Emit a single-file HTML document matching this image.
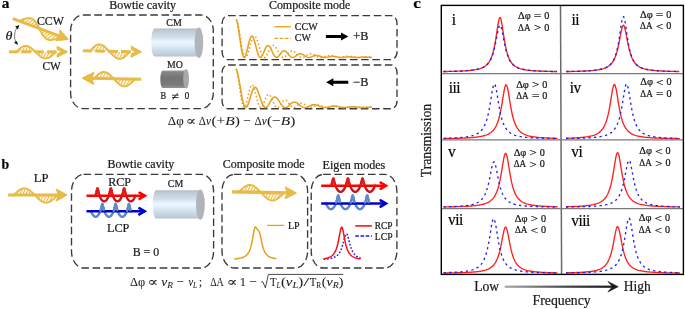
<!DOCTYPE html>
<html lang="en"><head><meta charset="utf-8"><title>Figure</title>
<style>html,body{margin:0;padding:0;background:#fff;}body{width:685px;height:309px;overflow:hidden;}svg{display:block;font-family:"Liberation Serif","DejaVu Serif",serif;fill:#1a1a1a;}text{stroke:#1a1a1a;stroke-width:0.22px;paint-order:stroke fill;}.m text{stroke-width:0.06px;}</style>
</head><body>
<svg width="685" height="309" viewBox="0 0 685 309" role="img" aria-label="Figure: bowtie cavity schematics and transmission spectra">
<defs>
<pattern id="hatch" patternUnits="userSpaceOnUse" width="2.7" height="2.7" patternTransform="rotate(-62)"><rect width="2.7" height="2.7" fill="#fff"/><rect width="2.7" height="1.15" fill="#E7BB45"/></pattern>
<linearGradient id="gCM" x1="0" y1="0" x2="0" y2="1"><stop offset="0" stop-color="#b0bcc8"/><stop offset="0.1" stop-color="#c0cdd9"/><stop offset="0.32" stop-color="#d2e0ec"/><stop offset="0.47" stop-color="#ebf7fe"/><stop offset="0.56" stop-color="#e6f3fc"/><stop offset="0.78" stop-color="#cbdbe8"/><stop offset="0.94" stop-color="#becdda"/><stop offset="1" stop-color="#b2bfcb"/></linearGradient>
<linearGradient id="gMO" x1="0" y1="0" x2="0" y2="1"><stop offset="0" stop-color="#9c9c9c"/><stop offset="0.12" stop-color="#858585"/><stop offset="0.4" stop-color="#747474"/><stop offset="0.8" stop-color="#7a7a7a"/><stop offset="1" stop-color="#959595"/></linearGradient>
<linearGradient id="gArrow" x1="0" y1="0" x2="1" y2="0"><stop offset="0" stop-color="#a8a8a8"/><stop offset="0.65" stop-color="#3a3a3a"/><stop offset="1" stop-color="#1a1a1a"/></linearGradient>
</defs>
<rect width="685" height="309" fill="#fff"/>
<g id="panel-a">
<text transform="translate(1.69 8) scale(1.022 1.0)" font-size="15" font-weight="bold" fill="#000">a</text>
<g transform="translate(12.8 18.6) rotate(20.5)">
<path d="M6.5 0.4 L7.61 -0.7 L8.72 -1.76 L9.84 -2.78 L10.95 -3.71 L12.06 -4.55 L13.18 -5.26 L14.29 -5.84 L15.4 -6.26 L16.51 -6.51 L17.62 -6.6 L18.74 -6.51 L19.85 -6.26 L20.96 -5.84 L22.07 -5.26 L23.19 -4.55 L24.3 -3.71 L25.41 -2.78 L26.53 -1.76 L27.64 -0.7 L28.75 0.4 L29.86 1.5 L30.98 2.56 L32.09 3.58 L33.2 4.51 L34.31 5.35 L35.42 6.06 L36.54 6.64 L37.65 7.06 L38.76 7.31 L39.88 7.4 L40.99 7.31 L42.1 7.06 L43.21 6.64 L44.32 6.06 L45.44 5.35 L46.55 4.51 L47.66 3.58 L48.77 2.56 L49.89 1.5 L51 0.4 Z" fill="url(#hatch)" stroke="none"/>
<path d="M6.5 0.4 L7.61 -0.7 L8.72 -1.76 L9.84 -2.78 L10.95 -3.71 L12.06 -4.55 L13.18 -5.26 L14.29 -5.84 L15.4 -6.26 L16.51 -6.51 L17.62 -6.6 L18.74 -6.51 L19.85 -6.26 L20.96 -5.84 L22.07 -5.26 L23.19 -4.55 L24.3 -3.71 L25.41 -2.78 L26.53 -1.76 L27.64 -0.7 L28.75 0.4 L29.86 1.5 L30.98 2.56 L32.09 3.58 L33.2 4.51 L34.31 5.35 L35.42 6.06 L36.54 6.64 L37.65 7.06 L38.76 7.31 L39.88 7.4 L40.99 7.31 L42.1 7.06 L43.21 6.64 L44.32 6.06 L45.44 5.35 L46.55 4.51 L47.66 3.58 L48.77 2.56 L49.89 1.5 L51 0.4" fill="none" stroke="#E7BB45" stroke-width="1.9" stroke-linecap="round" stroke-linejoin="round"/>
<line x1="0" y1="0" x2="52.3" y2="0" stroke="#E7BB45" stroke-width="3.0"/>
<path d="M58.7 0 L48.3 -5.4 L50.1 -1.2 L50.1 1.2 L48.3 5.4 Z" fill="#E7BB45" stroke="#E7BB45" stroke-width="1.6" stroke-linejoin="round"/>
</g>
<text transform="translate(36.91 24.6) scale(0.987 1.0)" font-size="12" >CCW</text>
<text transform="translate(5.6 39.7) scale(1.124 1.0)" font-size="12.5" font-style="italic">θ</text>
<path d="M16.6 28.0 Q13.0 35.0 15.7 42.2" fill="none" stroke="#444" stroke-width="0.7"/>
<path d="M19.3 24.9 L15.2 26.4 L17.9 29.6 Z" fill="#111"/>
<path d="M17.9 45.0 L14.0 42.7 L17.0 40.9 Z" fill="#111"/>
<g>
<path d="M15.8 52.2 L16.8 51.21 L17.79 50.25 L18.79 49.34 L19.78 48.5 L20.77 47.75 L21.77 47.1 L22.77 46.59 L23.76 46.21 L24.76 45.98 L25.75 45.9 L26.75 45.98 L27.74 46.21 L28.73 46.59 L29.73 47.1 L30.73 47.75 L31.72 48.5 L32.72 49.34 L33.71 50.25 L34.7 51.21 L35.7 52.2 L36.7 53.19 L37.69 54.15 L38.69 55.06 L39.68 55.9 L40.67 56.65 L41.67 57.3 L42.66 57.81 L43.66 58.19 L44.66 58.42 L45.65 58.5 L46.64 58.42 L47.64 58.19 L48.63 57.81 L49.63 57.3 L50.62 56.65 L51.62 55.9 L52.61 55.06 L53.61 54.15 L54.61 53.19 L55.6 52.2 Z" fill="url(#hatch)" stroke="none"/>
<path d="M15.8 52.2 L16.8 51.21 L17.79 50.25 L18.79 49.34 L19.78 48.5 L20.77 47.75 L21.77 47.1 L22.77 46.59 L23.76 46.21 L24.76 45.98 L25.75 45.9 L26.75 45.98 L27.74 46.21 L28.73 46.59 L29.73 47.1 L30.73 47.75 L31.72 48.5 L32.72 49.34 L33.71 50.25 L34.7 51.21 L35.7 52.2 L36.7 53.19 L37.69 54.15 L38.69 55.06 L39.68 55.9 L40.67 56.65 L41.67 57.3 L42.66 57.81 L43.66 58.19 L44.66 58.42 L45.65 58.5 L46.64 58.42 L47.64 58.19 L48.63 57.81 L49.63 57.3 L50.62 56.65 L51.62 55.9 L52.61 55.06 L53.61 54.15 L54.61 53.19 L55.6 52.2" fill="none" stroke="#E7BB45" stroke-width="1.9" stroke-linecap="round" stroke-linejoin="round"/>
<line x1="8.9" y1="51.8" x2="18.3" y2="51.8" stroke="#E7BB45" stroke-width="3.0"/>
<line x1="21.3" y1="51.8" x2="31.1" y2="51.8" stroke="#E7BB45" stroke-width="3.0"/>
<line x1="34.6" y1="51.8" x2="43.8" y2="51.8" stroke="#E7BB45" stroke-width="3.0"/>
<line x1="46.9" y1="51.8" x2="56.6" y2="51.8" stroke="#E7BB45" stroke-width="3.0"/>
<path d="M67.5 51.8 L57 46.3 L57.3 49.57 L61.73 51.8 L57.3 54.03 L57 57.3 Z" fill="#E7BB45" stroke="#E7BB45" stroke-width="1.0" stroke-linejoin="round"/>
</g>
<text transform="translate(42.43 70.2) scale(0.944 1.0)" font-size="12" >CW</text>
<rect x="70.6" y="15" width="142.7" height="93.6" rx="12.5" ry="15.5" fill="none" stroke="#3a3a3a" stroke-width="1.35" stroke-dasharray="7.6 3.6"/>
<text transform="translate(109.33 9) scale(0.997 1.0)" font-size="12" >Bowtie cavity</text>
<g transform="rotate(1.2 112 51.3)">
<path d="M89.4 51.7 L90.41 50.6 L91.41 49.54 L92.42 48.52 L93.42 47.59 L94.43 46.75 L95.43 46.04 L96.44 45.46 L97.44 45.04 L98.45 44.79 L99.45 44.7 L100.45 44.79 L101.46 45.04 L102.47 45.46 L103.47 46.04 L104.47 46.75 L105.48 47.59 L106.48 48.52 L107.49 49.54 L108.5 50.6 L109.5 51.7 L110.5 52.8 L111.51 53.86 L112.52 54.88 L113.52 55.81 L114.53 56.65 L115.53 57.36 L116.53 57.94 L117.54 58.36 L118.55 58.61 L119.55 58.7 L120.55 58.61 L121.56 58.36 L122.56 57.94 L123.57 57.36 L124.57 56.65 L125.58 55.81 L126.58 54.88 L127.59 53.86 L128.59 52.8 L129.6 51.7 Z" fill="url(#hatch)" stroke="none"/>
<path d="M89.4 51.7 L90.41 50.6 L91.41 49.54 L92.42 48.52 L93.42 47.59 L94.43 46.75 L95.43 46.04 L96.44 45.46 L97.44 45.04 L98.45 44.79 L99.45 44.7 L100.45 44.79 L101.46 45.04 L102.47 45.46 L103.47 46.04 L104.47 46.75 L105.48 47.59 L106.48 48.52 L107.49 49.54 L108.5 50.6 L109.5 51.7 L110.5 52.8 L111.51 53.86 L112.52 54.88 L113.52 55.81 L114.53 56.65 L115.53 57.36 L116.53 57.94 L117.54 58.36 L118.55 58.61 L119.55 58.7 L120.55 58.61 L121.56 58.36 L122.56 57.94 L123.57 57.36 L124.57 56.65 L125.58 55.81 L126.58 54.88 L127.59 53.86 L128.59 52.8 L129.6 51.7" fill="none" stroke="#E7BB45" stroke-width="1.9" stroke-linecap="round" stroke-linejoin="round"/>
<line x1="82.8" y1="51.3" x2="91.8" y2="51.3" stroke="#E7BB45" stroke-width="3.0"/>
<line x1="95" y1="51.3" x2="104.5" y2="51.3" stroke="#E7BB45" stroke-width="3.0"/>
<line x1="108" y1="51.3" x2="118" y2="51.3" stroke="#E7BB45" stroke-width="3.0"/>
<line x1="121" y1="51.3" x2="130.8" y2="51.3" stroke="#E7BB45" stroke-width="3.0"/>
<path d="M141.6 51.3 L131.1 45.8 L131.4 49.07 L135.83 51.3 L131.4 53.53 L131.1 56.8 Z" fill="#E7BB45" stroke="#E7BB45" stroke-width="1.0" stroke-linejoin="round"/>
</g>
<g transform="rotate(1.1 111.5 78.7)">
<path d="M93.6 79.1 L94.62 78 L95.65 76.94 L96.67 75.92 L97.7 74.99 L98.72 74.15 L99.75 73.44 L100.77 72.86 L101.8 72.44 L102.82 72.19 L103.85 72.1 L104.88 72.19 L105.9 72.44 L106.92 72.86 L107.95 73.44 L108.97 74.15 L110 74.99 L111.02 75.92 L112.05 76.94 L113.07 78 L114.1 79.1 L115.12 80.2 L116.15 81.26 L117.17 82.28 L118.2 83.21 L119.22 84.05 L120.25 84.76 L121.27 85.34 L122.3 85.76 L123.32 86.01 L124.35 86.1 L125.38 86.01 L126.4 85.76 L127.42 85.34 L128.45 84.76 L129.47 84.05 L130.5 83.21 L131.53 82.28 L132.55 81.26 L133.57 80.2 L134.6 79.1 Z" fill="url(#hatch)" stroke="none"/>
<path d="M93.6 79.1 L94.62 78 L95.65 76.94 L96.67 75.92 L97.7 74.99 L98.72 74.15 L99.75 73.44 L100.77 72.86 L101.8 72.44 L102.82 72.19 L103.85 72.1 L104.88 72.19 L105.9 72.44 L106.92 72.86 L107.95 73.44 L108.97 74.15 L110 74.99 L111.02 75.92 L112.05 76.94 L113.07 78 L114.1 79.1 L115.12 80.2 L116.15 81.26 L117.17 82.28 L118.2 83.21 L119.22 84.05 L120.25 84.76 L121.27 85.34 L122.3 85.76 L123.32 86.01 L124.35 86.1 L125.38 86.01 L126.4 85.76 L127.42 85.34 L128.45 84.76 L129.47 84.05 L130.5 83.21 L131.53 82.28 L132.55 81.26 L133.57 80.2 L134.6 79.1" fill="none" stroke="#E7BB45" stroke-width="1.9" stroke-linecap="round" stroke-linejoin="round"/>
<g transform="translate(223.1 0) scale(-1 1)">
<line x1="81.9" y1="78.7" x2="133.7" y2="78.7" stroke="#E7BB45" stroke-width="3.0"/>
<path d="M140.4 78.7 L129.5 73.1 L131.3 77.5 L131.3 79.9 L129.5 84.3 Z" fill="#E7BB45" stroke="#E7BB45" stroke-width="1.6" stroke-linejoin="round"/>
</g>
</g>
<path d="M154.68 28.4 L198.95 28.4 L198.95 56.6 L154.68 56.6 A3.48 14.1 0 0 1 154.68 28.4 Z" fill="url(#gCM)"/><ellipse cx="198.95" cy="42.8" rx="4.35" ry="15.2" fill="#b1b4ba"/>
<text transform="translate(166.33 26.2) scale(0.995 1.0)" font-size="10" >CM</text>
<path d="M162.62 70.4 L186.1 70.4 L186.1 88.1 L162.62 88.1 A2.32 8.85 0 0 1 162.62 70.4 Z" fill="url(#gMO)"/><ellipse cx="186.1" cy="78.8" rx="2.9" ry="9.8" fill="#a8a8a8"/>
<text transform="translate(166.95 67.7) scale(0.987 1.0)" font-size="10" >MO</text>
<text transform="translate(160.49 99.3) scale(0.851 1.0)" font-size="10" >B</text>
<text transform="translate(171.42 99.6) scale(1.153 1.0)" font-size="11.5" >≠</text>
<text transform="translate(184.76 99.3) scale(0.894 1.0)" font-size="10" >0</text>
<rect x="222.1" y="15.6" width="174.9" height="44" rx="6" ry="7.5" fill="none" stroke="#3a3a3a" stroke-width="1.35" stroke-dasharray="7.6 3.6"/>
<rect x="222.1" y="65" width="174.9" height="43.7" rx="6" ry="7.5" fill="none" stroke="#3a3a3a" stroke-width="1.35" stroke-dasharray="7.6 3.6"/>
<text transform="translate(268.9 8.9) scale(0.998 1.0)" font-size="12" >Composite mode</text>
<path d="M236.2 19.4 L237 21.36 L237.8 24.89 L238.6 29.6 L239.4 35.05 L240.19 40.72 L240.99 46.11 L241.79 50.78 L242.59 54.36 L243.39 56.64 L244.19 57.49 L244.99 56.97 L245.79 55.23 L246.58 52.55 L247.38 49.26 L248.18 45.74 L248.98 42.36 L249.78 39.48 L250.58 37.36 L251.38 36.19 L252.18 36.06 L252.98 36.94 L253.77 38.74 L254.57 41.26 L255.37 44.24 L256.17 47.42 L256.97 50.49 L257.77 53.21 L258.57 55.37 L259.37 56.81 L260.16 57.46 L260.96 57.33 L261.76 56.49 L262.56 55.09 L263.36 53.3 L264.16 51.34 L264.96 49.42 L265.76 47.73 L266.56 46.44 L267.35 45.66 L268.15 45.46 L268.95 45.83 L269.75 46.74 L270.55 48.07 L271.35 49.7 L272.15 51.47 L272.95 53.21 L273.74 54.79 L274.54 56.07 L275.34 56.97 L276.14 57.44 L276.94 57.46 L277.74 57.07 L278.54 56.34 L279.34 55.38 L280.14 54.29 L280.93 53.2 L281.73 52.22 L282.53 51.44 L283.33 50.94 L284.13 50.75 L284.93 50.89 L285.73 51.34 L286.53 52.04 L287.32 52.92 L288.12 53.9 L288.92 54.89 L289.72 55.8 L290.52 56.56 L291.32 57.12 L292.12 57.43 L292.92 57.49 L293.72 57.32 L294.51 56.95 L295.31 56.44 L296.11 55.84 L296.91 55.22 L297.71 54.65 L298.51 54.19 L299.31 53.87 L300.11 53.73 L300.9 53.77 L301.7 53.98 L302.5 54.35 L303.3 54.82 L304.1 55.36 L304.9 55.92 L305.7 56.44 L306.5 56.89 L307.3 57.23 L308.09 57.43 L308.89 57.5 L309.69 57.43 L310.49 57.25 L311.29 56.97 L312.09 56.64 L312.89 56.3 L313.69 55.97 L314.48 55.7 L315.28 55.5 L316.08 55.4 L316.88 55.4 L317.68 55.5 L318.48 55.68 L319.28 55.94 L320.08 56.24 L320.88 56.55 L321.67 56.85 L322.47 57.11 L323.27 57.31 L324.07 57.44 L324.87 57.5 L325.67 57.48 L326.47 57.39 L327.27 57.24 L328.06 57.06 L328.86 56.87 L329.66 56.68 L330.46 56.52 L331.26 56.4 L332.06 56.33 L332.86 56.32 L333.66 56.36 L334.46 56.46 L335.25 56.59 L336.05 56.76 L336.85 56.93 L337.65 57.1 L338.45 57.25 L339.25 57.37 L340.05 57.46 L340.85 57.5 L341.64 57.49 L342.44 57.45 L343.24 57.37 L344.04 57.28 L344.84 57.17 L345.64 57.06 L346.44 56.97 L347.24 56.9 L348.04 56.85 L348.83 56.84 L349.63 56.85 L350.43 56.9 L351.23 56.97 L352.03 57.06 L352.83 57.16 L353.63 57.26 L354.43 57.34 L355.22 57.42 L356.02 57.47 L356.82 57.5 L357.62 57.5 L358.42 57.48 L359.22 57.44 L360.02 57.39 L360.82 57.33 L361.62 57.27 L362.41 57.21 L363.21 57.17 L364.01 57.14 L364.81 57.13 L365.61 57.13 L366.41 57.16 L367.21 57.2 L368.01 57.24 L368.8 57.3 L369.6 57.35 L370.4 57.4 L371.2 57.45 L372 57.48" fill="none" stroke="#E8A11C" stroke-width="1.55" stroke-linejoin="round"/>
<path d="M236.2 19.4 L237 20.99 L237.8 23.76 L238.6 27.49 L239.4 31.92 L240.19 36.72 L240.99 41.58 L241.79 46.18 L242.59 50.23 L243.39 53.52 L244.19 55.87 L244.99 57.2 L245.79 57.47 L246.58 56.76 L247.38 55.17 L248.18 52.89 L248.98 50.14 L249.78 47.14 L250.58 44.14 L251.38 41.37 L252.18 39.03 L252.98 37.29 L253.77 36.26 L254.57 35.99 L255.37 36.49 L256.17 37.7 L256.97 39.52 L257.77 41.81 L258.57 44.41 L259.37 47.14 L260.16 49.81 L260.96 52.26 L261.76 54.35 L262.56 55.95 L263.36 57.01 L264.16 57.47 L264.96 57.36 L265.76 56.73 L266.56 55.64 L267.35 54.23 L268.15 52.6 L268.95 50.91 L269.75 49.27 L270.55 47.82 L271.35 46.66 L272.15 45.86 L272.95 45.48 L273.74 45.53 L274.54 46 L275.34 46.85 L276.14 48 L276.94 49.38 L277.74 50.88 L278.54 52.4 L279.34 53.85 L280.14 55.14 L280.93 56.19 L281.73 56.95 L282.53 57.39 L283.33 57.5 L284.13 57.29 L284.93 56.81 L285.73 56.11 L286.53 55.25 L287.32 54.32 L288.12 53.37 L288.92 52.5 L289.72 51.75 L290.52 51.19 L291.32 50.85 L292.12 50.75 L292.92 50.89 L293.72 51.26 L294.51 51.82 L295.31 52.53 L296.11 53.34 L296.91 54.19 L297.71 55.03 L298.51 55.81 L299.31 56.47 L300.11 56.99 L300.9 57.33 L301.7 57.49 L302.5 57.47 L303.3 57.28 L304.1 56.95 L304.9 56.51 L305.7 56 L306.5 55.47 L307.3 54.95 L308.09 54.49 L308.89 54.12 L309.69 53.86 L310.49 53.73 L311.29 53.74 L312.09 53.88 L312.89 54.14 L313.69 54.49 L314.48 54.92 L315.28 55.39 L316.08 55.87 L316.88 56.33 L317.68 56.73 L318.48 57.07 L319.28 57.31 L320.08 57.46 L320.88 57.5 L321.67 57.44 L322.47 57.3 L323.27 57.08 L324.07 56.82 L324.87 56.52 L325.67 56.23 L326.47 55.95 L327.27 55.71 L328.06 55.53 L328.86 55.42 L329.66 55.38 L330.46 55.42 L331.26 55.53 L332.06 55.7 L332.86 55.92 L333.66 56.18 L334.46 56.44 L335.25 56.71 L336.05 56.95 L336.85 57.16 L337.65 57.33 L338.45 57.44 L339.25 57.49 L340.05 57.49 L340.85 57.44 L341.64 57.33 L342.44 57.2 L343.24 57.04 L344.04 56.87 L344.84 56.71 L345.64 56.57 L346.44 56.45 L347.24 56.36 L348.04 56.32 L348.83 56.32 L349.63 56.36 L350.43 56.44 L351.23 56.55 L352.03 56.68 L352.83 56.83 L353.63 56.98 L354.43 57.12 L355.22 57.25 L356.02 57.36 L356.82 57.44 L357.62 57.48 L358.42 57.5 L359.22 57.48 L360.02 57.44 L360.82 57.37 L361.62 57.29 L362.41 57.2 L363.21 57.11 L364.01 57.02 L364.81 56.94 L365.61 56.89 L366.41 56.85 L367.21 56.84 L368.01 56.85 L368.8 56.88 L369.6 56.93 L370.4 57 L371.2 57.08 L372 57.16" fill="none" stroke="#E8A11C" stroke-width="1.55" stroke-dasharray="1.6 2.2" stroke-linejoin="round"/>
<line x1="274.5" y1="26.7" x2="290.8" y2="26.7" stroke="#E8A11C" stroke-width="1.3"/>
<line x1="274.5" y1="38.3" x2="290.8" y2="38.3" stroke="#E8A11C" stroke-width="1.3" stroke-dasharray="3.6 1.6"/>
<text x="294.8" y="29.9" font-size="10" text-anchor="start" >CCW</text>
<text x="294.8" y="41.1" font-size="10" text-anchor="start" >CW</text>
<path d="M325.9 34.9 L341 34.9 L341 32.4 L348.3 36.4 L341 40.4 L341 37.9 L325.9 37.9 Z" fill="#000"/>
<text transform="translate(353.26 39.7) scale(1.020 1.0)" font-size="12" >+B</text>
<path d="M348.3 80.8 L333.3 80.8 L333.3 78.3 L326.1 82.3 L333.3 86.3 L333.3 83.8 L348.3 83.8 Z" fill="#000"/>
<text transform="translate(353.26 86) scale(1.020 1.0)" font-size="12" >−B</text>
<path d="M236 68.9 L236.8 70.52 L237.6 73.24 L238.4 76.85 L239.2 81.1 L240 85.73 L240.8 90.44 L241.6 94.96 L242.4 99.05 L243.2 102.47 L244 105.09 L244.8 106.8 L245.6 107.56 L246.4 107.39 L247.2 106.38 L248 104.66 L248.8 102.4 L249.6 99.79 L250.4 97.03 L251.2 94.34 L252 91.89 L252.8 89.85 L253.6 88.35 L254.4 87.48 L255.2 87.27 L256 87.72 L256.8 88.79 L257.6 90.39 L258.4 92.41 L259.2 94.71 L260 97.15 L260.8 99.58 L261.6 101.86 L262.4 103.87 L263.2 105.5 L264 106.69 L264.8 107.39 L265.6 107.6 L266.4 107.34 L267.2 106.67 L268 105.66 L268.8 104.4 L269.6 103 L270.4 101.57 L271.2 100.21 L272 99 L272.8 98.04 L273.6 97.38 L274.4 97.06 L275.2 97.08 L276 97.44 L276.8 98.1 L277.6 99.02 L278.4 100.14 L279.2 101.37 L280 102.64 L280.8 103.89 L281.6 105.03 L282.4 106 L283.2 106.77 L284 107.29 L284.8 107.56 L285.6 107.58 L286.4 107.36 L287.2 106.94 L288 106.36 L288.8 105.67 L289.6 104.93 L290.4 104.19 L291.2 103.51 L292 102.93 L292.8 102.48 L293.6 102.2 L294.4 102.1 L295.2 102.18 L296 102.43 L296.8 102.83 L297.6 103.35 L298.4 103.95 L299.2 104.61 L300 105.27 L300.8 105.9 L301.6 106.46 L302.4 106.93 L303.2 107.28 L304 107.51 L304.8 107.6 L305.6 107.56 L306.4 107.4 L307.2 107.15 L308 106.83 L308.8 106.45 L309.6 106.07 L310.4 105.69 L311.2 105.35 L312 105.07 L312.8 104.87 L313.6 104.76 L314.4 104.74 L315.2 104.82 L316 104.98 L316.8 105.21 L317.6 105.5 L318.4 105.83 L319.2 106.17 L320 106.51 L320.8 106.83 L321.6 107.11 L322.4 107.33 L323.2 107.49 L324 107.58 L324.8 107.6 L325.6 107.55 L326.4 107.45 L327.2 107.31 L328 107.13 L328.8 106.93 L329.6 106.73 L330.4 106.54 L331.2 106.37 L332 106.24 L332.8 106.15 L333.6 106.12 L334.4 106.12 L335.2 106.18 L336 106.28 L336.8 106.41 L337.6 106.57 L338.4 106.75 L339.2 106.93 L340 107.1 L340.8 107.26 L341.6 107.39 L342.4 107.49 L343.2 107.56 L344 107.6 L344.8 107.59 L345.6 107.56 L346.4 107.5 L347.2 107.41 L348 107.32 L348.8 107.21 L349.6 107.11 L350.4 107.01 L351.2 106.93 L352 106.87 L352.8 106.84 L353.6 106.83 L354.4 106.84 L355.2 106.88 L356 106.94 L356.8 107.01 L357.6 107.1 L358.4 107.19 L359.2 107.28 L360 107.37 L360.8 107.45 L361.6 107.51 L362.4 107.56 L363.2 107.59 L364 107.6 L364.8 107.59 L365.6 107.57 L366.4 107.53 L367.2 107.48 L368 107.43 L368.8 107.38 L369.6 107.33 L370.4 107.28 L371.2 107.24 L372 107.21" fill="none" stroke="#E8A11C" stroke-width="1.55" stroke-linejoin="round"/>
<path d="M236 68.9 L236.8 70.78 L237.6 74.19 L238.4 78.81 L239.2 84.18 L240 89.84 L240.8 95.28 L241.6 100.08 L242.4 103.87 L243.2 106.4 L244 107.53 L244.8 107.28 L245.6 105.78 L246.4 103.25 L247.2 100.02 L248 96.43 L248.8 92.88 L249.6 89.69 L250.4 87.19 L251.2 85.58 L252 84.99 L252.8 85.45 L253.6 86.89 L254.4 89.16 L255.2 92.03 L256 95.24 L256.8 98.51 L257.6 101.56 L258.4 104.14 L259.2 106.08 L260 107.25 L260.8 107.6 L261.6 107.17 L262.4 106.05 L263.2 104.41 L264 102.43 L264.8 100.34 L265.6 98.33 L266.4 96.62 L267.2 95.34 L268 94.63 L268.8 94.51 L269.6 95 L270.4 96.03 L271.2 97.5 L272 99.26 L272.8 101.15 L273.6 103.01 L274.4 104.7 L275.2 106.06 L276 107.03 L276.8 107.53 L277.6 107.56 L278.4 107.15 L279.2 106.38 L280 105.34 L280.8 104.15 L281.6 102.94 L282.4 101.83 L283.2 100.92 L284 100.3 L284.8 100.01 L285.6 100.08 L286.4 100.48 L287.2 101.18 L288 102.11 L288.8 103.17 L289.6 104.27 L290.4 105.32 L291.2 106.24 L292 106.95 L292.8 107.41 L293.6 107.6 L294.4 107.51 L295.2 107.19 L296 106.68 L296.8 106.03 L297.6 105.33 L298.4 104.64 L299.2 104.04 L300 103.57 L300.8 103.28 L301.6 103.19 L302.4 103.3 L303.2 103.61 L304 104.07 L304.8 104.64 L305.6 105.27 L306.4 105.9 L307.2 106.49 L308 106.98 L308.8 107.34 L309.6 107.55 L310.4 107.6 L311.2 107.5 L312 107.26 L312.8 106.93 L313.6 106.54 L314.4 106.13 L315.2 105.75 L316 105.42 L316.8 105.19 L317.6 105.06 L318.4 105.05 L319.2 105.16 L320 105.37 L320.8 105.67 L321.6 106.02 L322.4 106.39 L323.2 106.75 L324 107.07 L324.8 107.33 L325.6 107.51 L326.4 107.59 L327.2 107.59 L328 107.5 L328.8 107.34 L329.6 107.13 L330.4 106.9 L331.2 106.66 L332 106.45 L332.8 106.28 L333.6 106.16 L334.4 106.12 L335.2 106.14 L336 106.23 L336.8 106.37 L337.6 106.55 L338.4 106.76 L339.2 106.98 L340 107.18 L340.8 107.35 L341.6 107.49 L342.4 107.57 L343.2 107.6 L344 107.58 L344.8 107.51 L345.6 107.41 L346.4 107.28 L347.2 107.14 L348 107.01 L348.8 106.89 L349.6 106.8 L350.4 106.75 L351.2 106.74 L352 106.77 L352.8 106.83 L353.6 106.92 L354.4 107.04 L355.2 107.16 L356 107.28 L356.8 107.4 L357.6 107.49 L358.4 107.56 L359.2 107.59 L360 107.6 L360.8 107.58 L361.6 107.53 L362.4 107.46 L363.2 107.38 L364 107.3 L364.8 107.23 L365.6 107.17 L366.4 107.12 L367.2 107.1 L368 107.1 L368.8 107.13 L369.6 107.17 L370.4 107.23 L371.2 107.3 L372 107.37" fill="none" stroke="#E8A11C" stroke-width="1.55" stroke-dasharray="1.6 2.2" stroke-linejoin="round"/>
<g class="m">
<text transform="translate(167.87 125.2) scale(1.057 1.0)" font-size="12.3" >Δφ</text>
<text transform="translate(185.86 125.2) scale(1.262 1.0)" font-size="12.3" >∝</text>
<text transform="translate(198.85 125.2) scale(0.909 1.0)" font-size="12.3" >Δ<tspan font-style="italic">ν</tspan></text>
<text transform="translate(211.47 125.2) scale(1.258 1.0)" font-size="12.3" >(+<tspan font-style="italic">B</tspan>)</text>
<text transform="translate(243.43 125.2) scale(1.078 1.0)" font-size="12.3" >−</text>
<text transform="translate(254.45 125.2) scale(0.909 1.0)" font-size="12.3" >Δ<tspan font-style="italic">ν</tspan></text>
<text transform="translate(267.08 125.2) scale(1.249 1.0)" font-size="12.3" >(−<tspan font-style="italic">B</tspan>)</text>
</g>
</g>
<g id="panel-b">
<text transform="translate(1.57 168.8) scale(0.920 1.0)" font-size="15" font-weight="bold" fill="#000">b</text>
<text transform="translate(33.81 181.7) scale(1.051 1.0)" font-size="12" >LP</text>
<g>
<path d="M13.4 195.5 L14.49 194.37 L15.58 193.28 L16.67 192.23 L17.76 191.27 L18.85 190.41 L19.94 189.68 L21.03 189.08 L22.12 188.65 L23.21 188.39 L24.3 188.3 L25.39 188.39 L26.48 188.65 L27.57 189.08 L28.66 189.68 L29.75 190.41 L30.84 191.27 L31.93 192.23 L33.02 193.28 L34.11 194.37 L35.2 195.5 L36.29 196.63 L37.38 197.72 L38.47 198.77 L39.56 199.73 L40.65 200.59 L41.74 201.32 L42.83 201.92 L43.92 202.35 L45.01 202.61 L46.1 202.7 L47.19 202.61 L48.28 202.35 L49.37 201.92 L50.46 201.32 L51.55 200.59 L52.64 199.73 L53.73 198.77 L54.82 197.72 L55.91 196.63 L57 195.5 Z" fill="url(#hatch)" stroke="none"/>
<path d="M13.4 195.5 L14.49 194.37 L15.58 193.28 L16.67 192.23 L17.76 191.27 L18.85 190.41 L19.94 189.68 L21.03 189.08 L22.12 188.65 L23.21 188.39 L24.3 188.3 L25.39 188.39 L26.48 188.65 L27.57 189.08 L28.66 189.68 L29.75 190.41 L30.84 191.27 L31.93 192.23 L33.02 193.28 L34.11 194.37 L35.2 195.5 L36.29 196.63 L37.38 197.72 L38.47 198.77 L39.56 199.73 L40.65 200.59 L41.74 201.32 L42.83 201.92 L43.92 202.35 L45.01 202.61 L46.1 202.7 L47.19 202.61 L48.28 202.35 L49.37 201.92 L50.46 201.32 L51.55 200.59 L52.64 199.73 L53.73 198.77 L54.82 197.72 L55.91 196.63 L57 195.5" fill="none" stroke="#E7BB45" stroke-width="1.9" stroke-linecap="round" stroke-linejoin="round"/>
<line x1="8.1" y1="195" x2="60.3" y2="195" stroke="#E7BB45" stroke-width="3.1"/>
<path d="M66.4 195 L56.5 189.5 L58.3 193.8 L58.3 196.2 L56.5 200.5 Z" fill="#E7BB45" stroke="#E7BB45" stroke-width="1.6" stroke-linejoin="round"/>
</g>
<rect x="71.5" y="174.4" width="142.1" height="93.6" rx="12" ry="17" fill="none" stroke="#3a3a3a" stroke-width="1.35" stroke-dasharray="7.6 3.6"/>
<text transform="translate(107.53 168) scale(0.997 1.0)" font-size="12" >Bowtie cavity</text>
<text transform="translate(108.32 186) scale(1.002 1.0)" font-size="12" >RCP</text>
<g>
<path d="M95.4 195.8 L95.85 194.44 L96.24 193.1 L96.56 191.84 L96.83 190.72 L97.04 189.78 L97.21 189.06 L97.35 188.59 L97.48 188.4 L97.6 188.5 L97.74 188.88 L97.9 189.51 L98.1 190.39 L98.35 191.46 L98.65 192.68 L99.02 194 L99.45 195.36 L99.95 196.7 L100.51 197.96 L101.13 199.08 L101.81 200.02 L102.52 200.74 L103.27 201.21 L104.03 201.4 L104.79 201.3 L105.54 200.92 L106.26 200.29 L106.95 199.41 L107.59 198.34 L108.18 197.12 L108.7 195.8 L109.15 194.44 L109.54 193.1 L109.86 191.84 L110.13 190.72 L110.34 189.78 L110.51 189.06 L110.65 188.59 L110.78 188.4 L110.9 188.5 L111.04 188.88 L111.2 189.51 L111.4 190.39 L111.65 191.46 L111.95 192.68 L112.32 194 L112.75 195.36 L113.25 196.7 L113.81 197.96 L114.43 199.08 L115.11 200.02 L115.82 200.74 L116.57 201.21 L117.33 201.4 L118.09 201.3 L118.84 200.92 L119.56 200.29 L120.25 199.41 L120.89 198.34 L121.48 197.12 L122 195.8 L122.45 194.44 L122.84 193.1 L123.16 191.84 L123.43 190.72 L123.64 189.78 L123.81 189.06 L123.95 188.59 L124.08 188.4 L124.2 188.5 L124.34 188.88 L124.5 189.51 L124.7 190.39 L124.95 191.46 L125.25 192.68 L125.62 194 L126.05 195.36 L126.55 196.7 L127.11 197.96 L127.73 199.08 L128.41 200.02 L129.12 200.74 L129.87 201.21 L130.63 201.4 L131.39 201.3 L132.14 200.92 L132.86 200.29 L133.55 199.41 L134.19 198.34 L134.78 197.12 L135.3 195.8" fill="none" stroke="#c4161c" stroke-width="2.4" stroke-linecap="round" stroke-linejoin="round"/>
<line x1="86.5" y1="195.8" x2="143.2" y2="195.8" stroke="#ff0000" stroke-width="2.5"/>
<path d="M95.85 194.44 L96.24 193.1 L96.56 191.84 L96.83 190.72 L97.04 189.78 L97.21 189.06 L97.35 188.59 L97.48 188.4 L97.6 188.5 L97.74 188.88 L97.9 189.51 L98.1 190.39 L98.35 191.46 L98.65 192.68 L99.02 194 L99.45 195.36" fill="none" stroke="#e01a1a" stroke-width="2.4" stroke-linecap="round" stroke-linejoin="round"/>
<path d="M109.15 194.44 L109.54 193.1 L109.86 191.84 L110.13 190.72 L110.34 189.78 L110.51 189.06 L110.65 188.59 L110.78 188.4 L110.9 188.5 L111.04 188.88 L111.2 189.51 L111.4 190.39 L111.65 191.46 L111.95 192.68 L112.32 194 L112.75 195.36" fill="none" stroke="#e01a1a" stroke-width="2.4" stroke-linecap="round" stroke-linejoin="round"/>
<path d="M122.45 194.44 L122.84 193.1 L123.16 191.84 L123.43 190.72 L123.64 189.78 L123.81 189.06 L123.95 188.59 L124.08 188.4 L124.2 188.5 L124.34 188.88 L124.5 189.51 L124.7 190.39 L124.95 191.46 L125.25 192.68 L125.62 194 L126.05 195.36" fill="none" stroke="#e01a1a" stroke-width="2.4" stroke-linecap="round" stroke-linejoin="round"/>
<path d="M139.5 192.7 L144.9 195.8 L139.5 198.9" fill="none" stroke="#ff0000" stroke-width="2.5" stroke-linecap="round" stroke-linejoin="miter"/>
</g>
<g>
<path d="M91.11 211.3 L91.63 212.6 L92.21 213.8 L92.85 214.85 L93.54 215.71 L94.27 216.34 L95.02 216.7 L95.78 216.8 L96.54 216.61 L97.29 216.15 L98 215.44 L98.67 214.51 L99.3 213.4 L99.86 212.16 L100.36 210.84 L100.79 209.5 L101.15 208.2 L101.46 207 L101.7 205.95 L101.9 205.09 L102.06 204.46 L102.2 204.1 L102.32 204 L102.45 204.19 L102.59 204.65 L102.76 205.36 L102.98 206.29 L103.24 207.4 L103.57 208.64 L103.95 209.96 L104.41 211.3 L104.93 212.6 L105.51 213.8 L106.15 214.85 L106.84 215.71 L107.57 216.34 L108.32 216.7 L109.08 216.8 L109.84 216.61 L110.59 216.15 L111.3 215.44 L111.97 214.51 L112.6 213.4 L113.16 212.16 L113.66 210.84 L114.09 209.5 L114.45 208.2 L114.76 207 L115 205.95 L115.2 205.09 L115.36 204.46 L115.5 204.1 L115.62 204 L115.75 204.19 L115.89 204.65 L116.06 205.36 L116.28 206.29 L116.54 207.4 L116.87 208.64 L117.25 209.96 L117.71 211.3 L118.23 212.6 L118.81 213.8 L119.45 214.85 L120.14 215.71 L120.87 216.34 L121.62 216.7 L122.38 216.8 L123.14 216.61 L123.89 216.15 L124.6 215.44 L125.27 214.51 L125.9 213.4 L126.46 212.16 L126.96 210.84 L127.39 209.5 L127.75 208.2 L128.06 207 L128.3 205.95 L128.5 205.09 L128.66 204.46 L128.8 204.1 L128.92 204 L129.05 204.19 L129.19 204.65 L129.36 205.36 L129.58 206.29 L129.84 207.4 L130.17 208.64 L130.55 209.96 L131.01 211.3" fill="none" stroke="#5a86c6" stroke-width="2.4" stroke-linecap="round" stroke-linejoin="round"/>
<line x1="86.5" y1="211.3" x2="143" y2="211.3" stroke="#0000c8" stroke-width="2.5"/>
<path d="M100.36 210.84 L100.79 209.5 L101.15 208.2 L101.46 207 L101.7 205.95 L101.9 205.09 L102.06 204.46 L102.2 204.1 L102.32 204 L102.45 204.19 L102.59 204.65 L102.76 205.36 L102.98 206.29 L103.24 207.4 L103.57 208.64 L103.95 209.96" fill="none" stroke="#5f8ac8" stroke-width="2.4" stroke-linecap="round" stroke-linejoin="round"/>
<path d="M113.66 210.84 L114.09 209.5 L114.45 208.2 L114.76 207 L115 205.95 L115.2 205.09 L115.36 204.46 L115.5 204.1 L115.62 204 L115.75 204.19 L115.89 204.65 L116.06 205.36 L116.28 206.29 L116.54 207.4 L116.87 208.64 L117.25 209.96" fill="none" stroke="#5f8ac8" stroke-width="2.4" stroke-linecap="round" stroke-linejoin="round"/>
<path d="M126.96 210.84 L127.39 209.5 L127.75 208.2 L128.06 207 L128.3 205.95 L128.5 205.09 L128.66 204.46 L128.8 204.1 L128.92 204 L129.05 204.19 L129.19 204.65 L129.36 205.36 L129.58 206.29 L129.84 207.4 L130.17 208.64 L130.55 209.96" fill="none" stroke="#5f8ac8" stroke-width="2.4" stroke-linecap="round" stroke-linejoin="round"/>
<path d="M139.3 208.2 L144.7 211.3 L139.3 214.4" fill="none" stroke="#0000c8" stroke-width="2.5" stroke-linecap="round" stroke-linejoin="miter"/>
</g>
<text transform="translate(107.02 231.5) scale(1.013 1.0)" font-size="12" >LCP</text>
<path d="M156.22 190.2 L200.4 190.2 L200.4 218.6 L156.22 218.6 A3.52 14.2 0 0 1 156.22 190.2 Z" fill="url(#gCM)"/><ellipse cx="200.4" cy="204.6" rx="4.4" ry="15.2" fill="#b1b4ba"/>
<text transform="translate(167.83 186.5) scale(0.988 1.0)" font-size="10" >CM</text>
<text transform="translate(132.63 255.7) scale(0.992 1.0)" font-size="12" >B = 0</text>
<rect x="222" y="174.4" width="85.6" height="93.6" rx="12" ry="17" fill="none" stroke="#3a3a3a" stroke-width="1.35" stroke-dasharray="7.6 3.6"/>
<text transform="translate(222.8 168) scale(1.001 1.0)" font-size="12" >Composite mode</text>
<g transform="rotate(1 264 192.4)">
<path d="M238.5 192.8 L239.63 191.61 L240.76 190.45 L241.89 189.35 L243.02 188.33 L244.15 187.43 L245.28 186.65 L246.41 186.03 L247.54 185.57 L248.67 185.29 L249.8 185.2 L250.93 185.29 L252.06 185.57 L253.19 186.03 L254.32 186.65 L255.45 187.43 L256.58 188.33 L257.71 189.35 L258.84 190.45 L259.97 191.61 L261.1 192.8 L262.23 193.99 L263.36 195.15 L264.49 196.25 L265.62 197.27 L266.75 198.17 L267.88 198.95 L269.01 199.57 L270.14 200.03 L271.27 200.31 L272.4 200.4 L273.53 200.31 L274.66 200.03 L275.79 199.57 L276.92 198.95 L278.05 198.17 L279.18 197.27 L280.31 196.25 L281.44 195.15 L282.57 193.99 L283.7 192.8 Z" fill="url(#hatch)" stroke="none"/>
<path d="M238.5 192.8 L239.63 191.61 L240.76 190.45 L241.89 189.35 L243.02 188.33 L244.15 187.43 L245.28 186.65 L246.41 186.03 L247.54 185.57 L248.67 185.29 L249.8 185.2 L250.93 185.29 L252.06 185.57 L253.19 186.03 L254.32 186.65 L255.45 187.43 L256.58 188.33 L257.71 189.35 L258.84 190.45 L259.97 191.61 L261.1 192.8 L262.23 193.99 L263.36 195.15 L264.49 196.25 L265.62 197.27 L266.75 198.17 L267.88 198.95 L269.01 199.57 L270.14 200.03 L271.27 200.31 L272.4 200.4 L273.53 200.31 L274.66 200.03 L275.79 199.57 L276.92 198.95 L278.05 198.17 L279.18 197.27 L280.31 196.25 L281.44 195.15 L282.57 193.99 L283.7 192.8" fill="none" stroke="#E7BB45" stroke-width="1.9" stroke-linecap="round" stroke-linejoin="round"/>
<line x1="232" y1="192.4" x2="289.5" y2="192.4" stroke="#E7BB45" stroke-width="3.4"/>
<path d="M295.9 192.4 L285.5 187 L287.3 191.2 L287.3 193.6 L285.5 197.8 Z" fill="#E7BB45" stroke="#E7BB45" stroke-width="1.6" stroke-linejoin="round"/>
</g>
<path d="M234.2 258.99 L234.67 258.95 L235.14 258.9 L235.61 258.86 L236.08 258.8 L236.54 258.75 L237.01 258.69 L237.48 258.62 L237.95 258.55 L238.42 258.48 L238.89 258.4 L239.36 258.31 L239.83 258.21 L240.3 258.11 L240.76 258 L241.23 257.88 L241.7 257.74 L242.17 257.59 L242.64 257.43 L243.11 257.25 L243.58 257.06 L244.05 256.84 L244.52 256.59 L244.98 256.32 L245.45 256.01 L245.92 255.67 L246.39 255.28 L246.86 254.83 L247.33 254.32 L247.8 253.74 L248.27 253.07 L248.74 252.3 L249.2 251.39 L249.67 250.34 L250.14 249.11 L250.61 247.67 L251.08 245.99 L251.55 244.04 L252.02 241.8 L252.49 239.3 L252.96 236.6 L253.42 233.84 L253.89 231.25 L254.36 229.13 L254.83 227.7 L255.3 227.1 L255.77 227.22 L256.24 227.81 L256.71 228.58 L257.18 229.28 L257.64 229.82 L258.11 230.23 L258.58 230.67 L259.05 231.36 L259.52 232.48 L259.99 234.09 L260.46 236.12 L260.93 238.39 L261.4 240.7 L261.86 242.92 L262.33 244.94 L262.8 246.74 L263.27 248.3 L263.74 249.65 L264.21 250.8 L264.68 251.8 L265.15 252.65 L265.62 253.39 L266.08 254.02 L266.55 254.57 L267.02 255.05 L267.49 255.47 L267.96 255.85 L268.43 256.17 L268.9 256.47 L269.37 256.72 L269.84 256.96 L270.3 257.17 L270.77 257.35 L271.24 257.52 L271.71 257.68 L272.18 257.82 L272.65 257.95 L273.12 258.06 L273.59 258.17 L274.06 258.27 L274.52 258.36 L274.99 258.44 L275.46 258.52 L275.93 258.59 L276.4 258.66" fill="none" stroke="#E8A11C" stroke-width="1.55" stroke-linejoin="round"/>
<line x1="267.2" y1="225.4" x2="284.2" y2="225.4" stroke="#E8A11C" stroke-width="1.3"/>
<text transform="translate(287.95 228.8) scale(1.000 1.0)" font-size="10" >LP</text>
<rect x="311.2" y="174.4" width="85.7" height="93.6" rx="12" ry="17" fill="none" stroke="#3a3a3a" stroke-width="1.35" stroke-dasharray="7.6 3.6"/>
<text transform="translate(322.62 168.6) scale(1.007 1.0)" font-size="12" >Eigen modes</text>
<g>
<path d="M331.15 185.7 L331.63 184.3 L332.03 182.94 L332.36 181.68 L332.64 180.57 L332.86 179.66 L333.03 179 L333.18 178.61 L333.32 178.5 L333.46 178.69 L333.61 179.16 L333.8 179.9 L334.04 180.87 L334.32 182.03 L334.68 183.32 L335.1 184.7 L335.6 186.1 L336.17 187.46 L336.81 188.72 L337.51 189.83 L338.26 190.74 L339.06 191.4 L339.88 191.79 L340.72 191.9 L341.55 191.71 L342.37 191.24 L343.16 190.5 L343.9 189.53 L344.58 188.37 L345.2 187.08 L345.75 185.7 L346.23 184.3 L346.63 182.94 L346.96 181.68 L347.24 180.57 L347.46 179.66 L347.63 179 L347.78 178.61 L347.92 178.5 L348.06 178.69 L348.21 179.16 L348.4 179.9 L348.64 180.87 L348.92 182.03 L349.28 183.32 L349.7 184.7 L350.2 186.1 L350.77 187.46 L351.41 188.72 L352.11 189.83 L352.86 190.74 L353.66 191.4 L354.48 191.79 L355.32 191.9 L356.15 191.71 L356.97 191.24 L357.76 190.5 L358.5 189.53 L359.18 188.37 L359.8 187.08 L360.35 185.7 L360.83 184.3 L361.23 182.94 L361.56 181.68 L361.84 180.57 L362.06 179.66 L362.23 179 L362.38 178.61 L362.52 178.5 L362.66 178.69 L362.81 179.16 L363 179.9 L363.24 180.87 L363.52 182.03 L363.88 183.32 L364.3 184.7 L364.8 186.1 L365.37 187.46 L366.01 188.72 L366.71 189.83 L367.46 190.74 L368.26 191.4 L369.08 191.79 L369.92 191.9 L370.75 191.71 L371.57 191.24 L372.36 190.5 L373.1 189.53 L373.78 188.37 L374.4 187.08 L374.95 185.7" fill="none" stroke="#c4161c" stroke-width="2.4" stroke-linecap="round" stroke-linejoin="round"/>
<line x1="321.2" y1="185.7" x2="384.3" y2="185.7" stroke="#ff0000" stroke-width="2.5"/>
<path d="M331.63 184.3 L332.03 182.94 L332.36 181.68 L332.64 180.57 L332.86 179.66 L333.03 179 L333.18 178.61 L333.32 178.5 L333.46 178.69 L333.61 179.16 L333.8 179.9 L334.04 180.87 L334.32 182.03 L334.68 183.32 L335.1 184.7" fill="none" stroke="#e01a1a" stroke-width="2.4" stroke-linecap="round" stroke-linejoin="round"/>
<path d="M346.23 184.3 L346.63 182.94 L346.96 181.68 L347.24 180.57 L347.46 179.66 L347.63 179 L347.78 178.61 L347.92 178.5 L348.06 178.69 L348.21 179.16 L348.4 179.9 L348.64 180.87 L348.92 182.03 L349.28 183.32 L349.7 184.7" fill="none" stroke="#e01a1a" stroke-width="2.4" stroke-linecap="round" stroke-linejoin="round"/>
<path d="M360.83 184.3 L361.23 182.94 L361.56 181.68 L361.84 180.57 L362.06 179.66 L362.23 179 L362.38 178.61 L362.52 178.5 L362.66 178.69 L362.81 179.16 L363 179.9 L363.24 180.87 L363.52 182.03 L363.88 183.32 L364.3 184.7" fill="none" stroke="#e01a1a" stroke-width="2.4" stroke-linecap="round" stroke-linejoin="round"/>
<path d="M380.6 182.6 L386 185.7 L380.6 188.8" fill="none" stroke="#ff0000" stroke-width="2.5" stroke-linecap="round" stroke-linejoin="miter"/>
</g>
<g>
<path d="M326.07 203.5 L326.65 204.88 L327.29 206.15 L328 207.25 L328.76 208.14 L329.55 208.77 L330.37 209.13 L331.2 209.19 L332.03 208.95 L332.84 208.42 L333.61 207.62 L334.34 206.6 L335.01 205.39 L335.61 204.05 L336.15 202.63 L336.61 201.2 L337 199.82 L337.32 198.55 L337.58 197.45 L337.79 196.56 L337.96 195.93 L338.11 195.57 L338.24 195.51 L338.38 195.75 L338.54 196.28 L338.73 197.08 L338.97 198.1 L339.27 199.31 L339.63 200.65 L340.06 202.07 L340.57 203.5 L341.15 204.88 L341.79 206.15 L342.5 207.25 L343.26 208.14 L344.05 208.77 L344.87 209.13 L345.7 209.19 L346.53 208.95 L347.34 208.42 L348.11 207.62 L348.84 206.6 L349.51 205.39 L350.11 204.05 L350.65 202.63 L351.11 201.2 L351.5 199.82 L351.82 198.55 L352.08 197.45 L352.29 196.56 L352.46 195.93 L352.61 195.57 L352.74 195.51 L352.88 195.75 L353.04 196.28 L353.23 197.08 L353.47 198.1 L353.77 199.31 L354.13 200.65 L354.56 202.07 L355.07 203.5 L355.65 204.88 L356.29 206.15 L357 207.25 L357.76 208.14 L358.55 208.77 L359.37 209.13 L360.2 209.19 L361.03 208.95 L361.84 208.42 L362.61 207.62 L363.34 206.6 L364.01 205.39 L364.61 204.05 L365.15 202.63 L365.61 201.2 L366 199.82 L366.32 198.55 L366.58 197.45 L366.79 196.56 L366.96 195.93 L367.11 195.57 L367.24 195.51 L367.38 195.75 L367.54 196.28 L367.73 197.08 L367.97 198.1 L368.27 199.31 L368.63 200.65 L369.06 202.07 L369.57 203.5" fill="none" stroke="#5a86c6" stroke-width="2.4" stroke-linecap="round" stroke-linejoin="round"/>
<line x1="321.2" y1="203.5" x2="384.3" y2="203.5" stroke="#0000c8" stroke-width="2.5"/>
<path d="M336.15 202.63 L336.61 201.2 L337 199.82 L337.32 198.55 L337.58 197.45 L337.79 196.56 L337.96 195.93 L338.11 195.57 L338.24 195.51 L338.38 195.75 L338.54 196.28 L338.73 197.08 L338.97 198.1 L339.27 199.31 L339.63 200.65 L340.06 202.07" fill="none" stroke="#5f8ac8" stroke-width="2.4" stroke-linecap="round" stroke-linejoin="round"/>
<path d="M350.65 202.63 L351.11 201.2 L351.5 199.82 L351.82 198.55 L352.08 197.45 L352.29 196.56 L352.46 195.93 L352.61 195.57 L352.74 195.51 L352.88 195.75 L353.04 196.28 L353.23 197.08 L353.47 198.1 L353.77 199.31 L354.13 200.65 L354.56 202.07" fill="none" stroke="#5f8ac8" stroke-width="2.4" stroke-linecap="round" stroke-linejoin="round"/>
<path d="M365.15 202.63 L365.61 201.2 L366 199.82 L366.32 198.55 L366.58 197.45 L366.79 196.56 L366.96 195.93 L367.11 195.57 L367.24 195.51 L367.38 195.75 L367.54 196.28 L367.73 197.08 L367.97 198.1 L368.27 199.31 L368.63 200.65 L369.06 202.07" fill="none" stroke="#5f8ac8" stroke-width="2.4" stroke-linecap="round" stroke-linejoin="round"/>
<path d="M380.6 200.4 L386 203.5 L380.6 206.6" fill="none" stroke="#0000c8" stroke-width="2.5" stroke-linecap="round" stroke-linejoin="miter"/>
</g>
<path d="M323.6 259.35 L324.06 259.31 L324.53 259.27 L324.99 259.23 L325.45 259.18 L325.91 259.13 L326.38 259.08 L326.84 259.02 L327.3 258.96 L327.76 258.9 L328.23 258.83 L328.69 258.76 L329.15 258.68 L329.61 258.6 L330.08 258.51 L330.54 258.41 L331 258.3 L331.46 258.18 L331.93 258.06 L332.39 257.92 L332.85 257.77 L333.31 257.61 L333.78 257.43 L334.24 257.23 L334.7 257.02 L335.16 256.78 L335.62 256.51 L336.09 256.22 L336.55 255.89 L337.01 255.53 L337.48 255.12 L337.94 254.66 L338.4 254.15 L338.86 253.56 L339.33 252.91 L339.79 252.17 L340.25 251.33 L340.71 250.38 L341.18 249.3 L341.64 248.1 L342.1 246.75 L342.56 245.25 L343.03 243.62 L343.49 241.87 L343.95 240.07 L344.41 238.29 L344.88 236.64 L345.34 235.26 L345.8 234.28 L346.26 233.83 L346.73 233.94 L347.19 234.62 L347.65 235.78 L348.11 237.29 L348.58 239 L349.04 240.8 L349.5 242.59 L349.96 244.29 L350.43 245.87 L350.89 247.31 L351.35 248.6 L351.81 249.76 L352.28 250.78 L352.74 251.68 L353.2 252.48 L353.66 253.18 L354.12 253.81 L354.59 254.36 L355.05 254.85 L355.51 255.29 L355.98 255.68 L356.44 256.03 L356.9 256.34 L357.36 256.62 L357.83 256.88 L358.29 257.11 L358.75 257.32 L359.21 257.5 L359.68 257.68 L360.14 257.83 L360.6 257.98" fill="none" stroke="#1a1aff" stroke-width="1.5" stroke-dasharray="1.7 1.8"/>
<path d="M323.6 258.83 L324.06 258.76 L324.53 258.68 L324.99 258.59 L325.45 258.5 L325.91 258.4 L326.38 258.29 L326.84 258.17 L327.3 258.04 L327.76 257.9 L328.23 257.74 L328.69 257.57 L329.15 257.39 L329.61 257.18 L330.08 256.95 L330.54 256.7 L331 256.42 L331.46 256.11 L331.93 255.75 L332.39 255.36 L332.85 254.92 L333.31 254.42 L333.78 253.85 L334.24 253.2 L334.7 252.46 L335.16 251.61 L335.62 250.64 L336.09 249.52 L336.55 248.24 L337.01 246.76 L337.48 245.07 L337.94 243.16 L338.4 241.01 L338.86 238.66 L339.33 236.15 L339.79 233.62 L340.25 231.22 L340.71 229.19 L341.18 227.79 L341.64 227.21 L342.1 227.54 L342.56 228.74 L343.03 230.63 L343.49 232.95 L343.95 235.47 L344.41 237.99 L344.88 240.39 L345.34 242.6 L345.8 244.58 L346.26 246.33 L346.73 247.86 L347.19 249.19 L347.65 250.35 L348.11 251.36 L348.58 252.24 L349.04 253.01 L349.5 253.68 L349.96 254.27 L350.43 254.79 L350.89 255.25 L351.35 255.65 L351.81 256.01 L352.28 256.34 L352.74 256.63 L353.2 256.89 L353.66 257.12 L354.12 257.33 L354.59 257.52 L355.05 257.7 L355.51 257.86 L355.98 258 L356.44 258.13 L356.9 258.26 L357.36 258.37 L357.83 258.47 L358.29 258.57 L358.75 258.65 L359.21 258.74 L359.68 258.81 L360.14 258.88 L360.6 258.95" fill="none" stroke="#ff1010" stroke-width="1.5"/>
<line x1="355.3" y1="225.9" x2="371.9" y2="225.9" stroke="#ff1010" stroke-width="1.6"/>
<line x1="355.3" y1="236" x2="371.9" y2="236" stroke="#1a1aff" stroke-width="1.6" stroke-dasharray="3.6 1.6"/>
<text transform="translate(374.77 228.8) scale(0.937 1.0)" font-size="10" >RCP</text>
<text transform="translate(374.76 239.5) scale(0.970 1.0)" font-size="10" >LCP</text>
<g class="m">
<text transform="translate(130.1 286) scale(1.007 1.0)" font-size="12.3" >Δφ</text>
<text transform="translate(147.52 286) scale(1.298 1.0)" font-size="12.3" >∝</text>
<text transform="translate(161.26 286) scale(1.089 1.0)" font-size="12.3" ><tspan font-style="italic">ν</tspan><tspan font-style="italic" font-size="8.6" dy="2.3">R</tspan></text>
<text transform="translate(176.64 286) scale(1.061 1.0)" font-size="12.3" >−</text>
<text transform="translate(188.39 286) scale(0.851 1.0)" font-size="12.3" ><tspan font-style="italic">ν</tspan><tspan font-style="italic" font-size="8.6" dy="2.3">L</tspan></text>
<text transform="translate(198.87 286) scale(1.013 1.0)" font-size="12.3" >;</text>
<text transform="translate(210.19 286) scale(0.812 1.0)" font-size="12.3" >ΔA</text>
<text transform="translate(226.72 286) scale(1.298 1.0)" font-size="12.3" >∝</text>
<text transform="translate(239.66 286) scale(1.012 1.0)" font-size="12.3" >1</text>
<text transform="translate(249.43 286) scale(1.078 1.0)" font-size="12.3" >−</text>
<path d="M261.2 282.4 L262.7 281.6 L265.4 287.8 L268.4 274.4 L343.3 274.4" fill="none" stroke="#1a1a1a" stroke-width="0.8"/>
<text transform="translate(270.08 286) scale(0.869 1.0)" font-size="12.3" >T<tspan font-style="italic" font-size="8.6" dy="2.3">L</tspan></text>
<text transform="translate(280.89 286) scale(1.214 1.0)" font-size="12.3" >(<tspan font-style="italic">ν</tspan><tspan font-style="italic" font-size="8.6" dy="2.3">L</tspan><tspan dy="-2.3">)</tspan></text>
<text transform="translate(303.5 286) scale(1.659 1.0)" font-size="12.3" >/</text>
<text transform="translate(309.78 286) scale(0.869 1.0)" font-size="12.3" >T<tspan font-size="8.6" dy="2.3">R</tspan></text>
<text transform="translate(321.83 286) scale(1.141 1.0)" font-size="12.3" >(<tspan font-style="italic">ν</tspan><tspan font-style="italic" font-size="8.6" dy="2.3">R</tspan><tspan dy="-2.3">)</tspan></text>
</g>
</g>
<g id="panel-c">
<text transform="translate(413.13 7.8) scale(1.148 1.0)" font-size="15" font-weight="bold" fill="#000">c</text>
<path d="M443.3 71.55 L444.17 71.53 L445.05 71.52 L445.92 71.5 L446.8 71.48 L447.67 71.47 L448.55 71.45 L449.42 71.43 L450.3 71.41 L451.17 71.39 L452.05 71.37 L452.92 71.34 L453.8 71.32 L454.67 71.29 L455.54 71.26 L456.42 71.24 L457.29 71.2 L458.17 71.17 L459.04 71.14 L459.92 71.1 L460.79 71.06 L461.67 71.02 L462.54 70.97 L463.42 70.92 L464.29 70.87 L465.17 70.81 L466.04 70.75 L466.91 70.69 L467.79 70.62 L468.66 70.54 L469.54 70.46 L470.41 70.37 L471.29 70.27 L472.16 70.16 L473.04 70.05 L473.91 69.92 L474.79 69.78 L475.66 69.62 L476.54 69.45 L477.41 69.26 L478.28 69.05 L479.16 68.81 L480.03 68.54 L480.91 68.24 L481.78 67.89 L482.66 67.5 L483.53 67.06 L484.41 66.55 L485.28 65.95 L486.16 65.26 L487.03 64.45 L487.91 63.5 L488.78 62.36 L489.65 61 L490.53 59.37 L491.4 57.39 L492.28 54.98 L493.15 52.04 L494.03 48.47 L494.9 44.16 L495.78 39.09 L496.65 33.38 L497.53 27.43 L498.4 22.04 L499.28 18.35 L500.15 17.35 L501.02 19.35 L501.9 23.76 L502.77 29.46 L503.65 35.39 L504.52 40.92 L505.4 45.73 L506.27 49.77 L507.15 53.12 L508.02 55.86 L508.9 58.11 L509.77 59.97 L510.65 61.5 L511.52 62.77 L512.39 63.84 L513.27 64.74 L514.14 65.51 L515.02 66.17 L515.89 66.73 L516.77 67.22 L517.64 67.64 L518.52 68.02 L519.39 68.34 L520.27 68.63 L521.14 68.89 L522.02 69.12 L522.89 69.33 L523.76 69.51 L524.64 69.68 L525.51 69.83 L526.39 69.96 L527.26 70.09 L528.14 70.2 L529.01 70.3 L529.89 70.4 L530.76 70.49 L531.64 70.57 L532.51 70.64 L533.39 70.71 L534.26 70.77 L535.13 70.83 L536.01 70.89 L536.88 70.94 L537.76 70.99 L538.63 71.03 L539.51 71.07 L540.38 71.11 L541.26 71.15 L542.13 71.18 L543.01 71.22 L543.88 71.25 L544.76 71.27 L545.63 71.3 L546.5 71.33 L547.38 71.35 L548.25 71.37 L549.13 71.4 L550 71.42 L550.88 71.44 L551.75 71.46 L552.63 71.47 L553.5 71.49 L554.38 71.51 L555.25 71.52 L556.13 71.54 L557 71.55" fill="none" stroke="#ff2020" stroke-width="1.35" stroke-linejoin="round"/>
<path d="M443.3 71.55 L444.17 71.53 L445.05 71.52 L445.92 71.5 L446.8 71.49 L447.67 71.47 L448.55 71.45 L449.42 71.43 L450.3 71.41 L451.17 71.39 L452.05 71.37 L452.92 71.35 L453.8 71.32 L454.67 71.29 L455.54 71.27 L456.42 71.24 L457.29 71.21 L458.17 71.17 L459.04 71.14 L459.92 71.1 L460.79 71.06 L461.67 71.02 L462.54 70.97 L463.42 70.93 L464.29 70.87 L465.17 70.82 L466.04 70.76 L466.91 70.69 L467.79 70.62 L468.66 70.55 L469.54 70.47 L470.41 70.38 L471.29 70.28 L472.16 70.18 L473.04 70.06 L473.91 69.93 L474.79 69.8 L475.66 69.64 L476.54 69.47 L477.41 69.28 L478.28 69.08 L479.16 68.84 L480.03 68.58 L480.91 68.28 L481.78 67.95 L482.66 67.57 L483.53 67.14 L484.41 66.64 L485.28 66.07 L486.16 65.4 L487.03 64.63 L487.91 63.72 L488.78 62.65 L489.65 61.37 L490.53 59.85 L491.4 58.03 L492.28 55.83 L493.15 53.2 L494.03 50.06 L494.9 46.35 L495.78 42.1 L496.65 37.45 L497.53 32.76 L498.4 28.64 L499.28 25.87 L500.15 25.13 L501.02 26.62 L501.9 29.94 L502.77 34.34 L503.65 39.08 L504.52 43.62 L505.4 47.69 L506.27 51.2 L507.15 54.16 L508.02 56.63 L508.9 58.69 L509.77 60.4 L510.65 61.83 L511.52 63.04 L512.39 64.05 L513.27 64.91 L514.14 65.64 L515.02 66.28 L515.89 66.82 L516.77 67.29 L517.64 67.71 L518.52 68.07 L519.39 68.39 L520.27 68.67 L521.14 68.92 L522.02 69.15 L522.89 69.35 L523.76 69.53 L524.64 69.7 L525.51 69.84 L526.39 69.98 L527.26 70.1 L528.14 70.21 L529.01 70.32 L529.89 70.41 L530.76 70.5 L531.64 70.58 L532.51 70.65 L533.39 70.72 L534.26 70.78 L535.13 70.84 L536.01 70.89 L536.88 70.94 L537.76 70.99 L538.63 71.03 L539.51 71.08 L540.38 71.12 L541.26 71.15 L542.13 71.19 L543.01 71.22 L543.88 71.25 L544.76 71.28 L545.63 71.3 L546.5 71.33 L547.38 71.35 L548.25 71.38 L549.13 71.4 L550 71.42 L550.88 71.44 L551.75 71.46 L552.63 71.47 L553.5 71.49 L554.38 71.51 L555.25 71.52 L556.13 71.54 L557 71.55" fill="none" stroke="#2020f0" stroke-width="1.35" stroke-dasharray="2.3 3.3" stroke-linejoin="round"/>
<text transform="translate(451.7 25.2) scale(0.96 1)" font-size="16" letter-spacing="-0.5" fill="#000">i</text>
<text transform="translate(518.04 18.6) scale(0.950 1.0)" font-size="11" fill="#111">Δφ</text>
<text transform="translate(533.86 18.8) scale(1.272 1.0)" font-size="10.5" fill="#222">=</text>
<text transform="translate(544.25 18.6) scale(0.926 1.0)" font-size="11" fill="#111">0</text>
<text transform="translate(518.09 30.5) scale(0.828 1.0)" font-size="11" fill="#111">ΔA</text>
<text transform="translate(533.97 31.2) scale(1.162 1.0)" font-size="11" fill="#111" stroke="#111" stroke-width="0.2">&gt;</text>
<text transform="translate(544.25 30.5) scale(0.926 1.0)" font-size="11" fill="#111">0</text>
<path d="M566.2 71.55 L567.07 71.54 L567.94 71.53 L568.81 71.51 L569.68 71.5 L570.55 71.48 L571.42 71.46 L572.29 71.44 L573.16 71.42 L574.03 71.4 L574.9 71.38 L575.77 71.36 L576.64 71.34 L577.51 71.31 L578.38 71.29 L579.25 71.26 L580.12 71.23 L580.99 71.2 L581.86 71.16 L582.73 71.13 L583.6 71.09 L584.47 71.05 L585.34 71.01 L586.21 70.96 L587.08 70.91 L587.95 70.86 L588.82 70.8 L589.69 70.74 L590.56 70.67 L591.43 70.6 L592.3 70.53 L593.17 70.44 L594.04 70.35 L594.91 70.26 L595.78 70.15 L596.65 70.03 L597.52 69.9 L598.39 69.76 L599.26 69.6 L600.13 69.43 L601 69.24 L601.87 69.03 L602.74 68.79 L603.61 68.52 L604.48 68.22 L605.35 67.88 L606.22 67.5 L607.09 67.05 L607.96 66.55 L608.83 65.96 L609.7 65.29 L610.57 64.49 L611.44 63.57 L612.31 62.47 L613.18 61.17 L614.05 59.62 L614.92 57.76 L615.79 55.52 L616.66 52.85 L617.53 49.65 L618.4 45.9 L619.27 41.62 L620.14 36.97 L621.01 32.33 L621.88 28.32 L622.75 25.72 L623.62 25.17 L624.49 26.81 L625.36 30.22 L626.23 34.64 L627.1 39.35 L627.97 43.85 L628.84 47.87 L629.71 51.34 L630.58 54.26 L631.45 56.71 L632.32 58.74 L633.19 60.44 L634.06 61.86 L634.93 63.05 L635.8 64.05 L636.67 64.91 L637.54 65.64 L638.41 66.27 L639.28 66.81 L640.15 67.28 L641.02 67.7 L641.89 68.06 L642.76 68.38 L643.63 68.66 L644.5 68.91 L645.37 69.14 L646.24 69.34 L647.11 69.52 L647.98 69.69 L648.85 69.83 L649.72 69.97 L650.59 70.09 L651.46 70.2 L652.33 70.31 L653.2 70.4 L654.07 70.49 L654.94 70.57 L655.81 70.64 L656.68 70.71 L657.55 70.77 L658.42 70.83 L659.29 70.89 L660.16 70.94 L661.03 70.98 L661.9 71.03 L662.77 71.07 L663.64 71.11 L664.51 71.15 L665.38 71.18 L666.25 71.21 L667.12 71.24 L667.99 71.27 L668.86 71.3 L669.73 71.32 L670.6 71.35 L671.47 71.37 L672.34 71.39 L673.21 71.41 L674.08 71.43 L674.95 71.45 L675.82 71.47 L676.69 71.49 L677.56 71.5 L678.43 71.52 L679.3 71.53" fill="none" stroke="#ff2020" stroke-width="1.35" stroke-linejoin="round"/>
<path d="M566.2 71.55 L567.07 71.54 L567.94 71.53 L568.81 71.51 L569.68 71.49 L570.55 71.48 L571.42 71.46 L572.29 71.44 L573.16 71.42 L574.03 71.4 L574.9 71.38 L575.77 71.36 L576.64 71.33 L577.51 71.31 L578.38 71.28 L579.25 71.25 L580.12 71.22 L580.99 71.19 L581.86 71.16 L582.73 71.12 L583.6 71.09 L584.47 71.04 L585.34 71 L586.21 70.95 L587.08 70.91 L587.95 70.85 L588.82 70.79 L589.69 70.73 L590.56 70.67 L591.43 70.6 L592.3 70.52 L593.17 70.43 L594.04 70.34 L594.91 70.24 L595.78 70.13 L596.65 70.01 L597.52 69.88 L598.39 69.74 L599.26 69.58 L600.13 69.41 L601 69.21 L601.87 68.99 L602.74 68.75 L603.61 68.48 L604.48 68.17 L605.35 67.82 L606.22 67.42 L607.09 66.96 L607.96 66.44 L608.83 65.83 L609.7 65.12 L610.57 64.29 L611.44 63.31 L612.31 62.15 L613.18 60.75 L614.05 59.07 L614.92 57.04 L615.79 54.56 L616.66 51.53 L617.53 47.85 L618.4 43.42 L619.27 38.21 L620.14 32.37 L621.01 26.33 L621.88 20.94 L622.75 17.37 L623.62 16.6 L624.49 18.88 L625.36 23.52 L626.23 29.36 L627.1 35.38 L627.97 40.94 L628.84 45.76 L629.71 49.8 L630.58 53.14 L631.45 55.87 L632.32 58.12 L633.19 59.96 L634.06 61.49 L634.93 62.76 L635.8 63.83 L636.67 64.73 L637.54 65.5 L638.41 66.15 L639.28 66.71 L640.15 67.2 L641.02 67.63 L641.89 68 L642.76 68.33 L643.63 68.62 L644.5 68.88 L645.37 69.11 L646.24 69.31 L647.11 69.5 L647.98 69.66 L648.85 69.82 L649.72 69.95 L650.59 70.08 L651.46 70.19 L652.33 70.29 L653.2 70.39 L654.07 70.48 L654.94 70.56 L655.81 70.63 L656.68 70.7 L657.55 70.76 L658.42 70.82 L659.29 70.88 L660.16 70.93 L661.03 70.98 L661.9 71.02 L662.77 71.07 L663.64 71.1 L664.51 71.14 L665.38 71.18 L666.25 71.21 L667.12 71.24 L667.99 71.27 L668.86 71.3 L669.73 71.32 L670.6 71.35 L671.47 71.37 L672.34 71.39 L673.21 71.41 L674.08 71.43 L674.95 71.45 L675.82 71.47 L676.69 71.49 L677.56 71.5 L678.43 71.52 L679.3 71.53" fill="none" stroke="#2020f0" stroke-width="1.35" stroke-dasharray="2.3 3.3" stroke-linejoin="round"/>
<text transform="translate(571.4 25.3) scale(0.96 1)" font-size="16" letter-spacing="-0.5" fill="#000">ii</text>
<text transform="translate(640.04 17.6) scale(0.950 1.0)" font-size="11" fill="#111">Δφ</text>
<text transform="translate(655.86 17.8) scale(1.272 1.0)" font-size="10.5" fill="#222">=</text>
<text transform="translate(666.25 17.6) scale(0.926 1.0)" font-size="11" fill="#111">0</text>
<text transform="translate(640.09 29.2) scale(0.828 1.0)" font-size="11" fill="#111">ΔA</text>
<text transform="translate(655.97 29.9) scale(1.162 1.0)" font-size="11" fill="#111" stroke="#111" stroke-width="0.2">&lt;</text>
<text transform="translate(666.25 29.2) scale(0.926 1.0)" font-size="11" fill="#111">0</text>
<path d="M443.5 138.57 L444.38 138.56 L445.25 138.54 L446.13 138.53 L447.01 138.52 L447.88 138.5 L448.76 138.49 L449.64 138.47 L450.52 138.45 L451.39 138.44 L452.27 138.42 L453.15 138.4 L454.02 138.38 L454.9 138.36 L455.78 138.33 L456.65 138.31 L457.53 138.29 L458.41 138.26 L459.28 138.23 L460.16 138.2 L461.04 138.17 L461.92 138.14 L462.79 138.11 L463.67 138.07 L464.55 138.03 L465.42 137.99 L466.3 137.94 L467.18 137.9 L468.05 137.85 L468.93 137.79 L469.81 137.73 L470.68 137.67 L471.56 137.61 L472.44 137.53 L473.32 137.46 L474.19 137.37 L475.07 137.28 L475.95 137.19 L476.82 137.08 L477.7 136.96 L478.58 136.84 L479.45 136.7 L480.33 136.55 L481.21 136.38 L482.08 136.19 L482.96 135.99 L483.84 135.76 L484.72 135.51 L485.59 135.23 L486.47 134.91 L487.35 134.55 L488.22 134.14 L489.1 133.67 L489.98 133.14 L490.85 132.53 L491.73 131.83 L492.61 131.01 L493.48 130.05 L494.36 128.91 L495.24 127.58 L496.12 125.98 L496.99 124.08 L497.87 121.79 L498.75 119.03 L499.62 115.73 L500.5 111.8 L501.38 107.21 L502.25 102.04 L503.13 96.54 L504.01 91.26 L504.88 87.05 L505.76 84.8 L506.64 85.1 L507.52 87.87 L508.39 92.41 L509.27 97.8 L510.15 103.26 L511.02 108.32 L511.9 112.75 L512.78 116.54 L513.65 119.71 L514.53 122.35 L515.41 124.54 L516.28 126.37 L517.16 127.9 L518.04 129.19 L518.92 130.28 L519.79 131.2 L520.67 132 L521.55 132.68 L522.42 133.27 L523.3 133.79 L524.18 134.24 L525.05 134.63 L525.93 134.98 L526.81 135.29 L527.68 135.57 L528.56 135.82 L529.44 136.04 L530.32 136.24 L531.19 136.42 L532.07 136.58 L532.95 136.73 L533.82 136.87 L534.7 136.99 L535.58 137.1 L536.45 137.21 L537.33 137.31 L538.21 137.39 L539.08 137.48 L539.96 137.55 L540.84 137.62 L541.72 137.69 L542.59 137.75 L543.47 137.81 L544.35 137.86 L545.22 137.91 L546.1 137.95 L546.98 138 L547.85 138.04 L548.73 138.08 L549.61 138.11 L550.48 138.15 L551.36 138.18 L552.24 138.21 L553.12 138.24 L553.99 138.27 L554.87 138.29 L555.75 138.32 L556.62 138.34 L557.5 138.36" fill="none" stroke="#ff2020" stroke-width="1.35" stroke-linejoin="round"/>
<path d="M443.5 138.34 L444.38 138.32 L445.25 138.29 L446.13 138.27 L447.01 138.24 L447.88 138.21 L448.76 138.18 L449.64 138.15 L450.52 138.12 L451.39 138.08 L452.27 138.04 L453.15 138 L454.02 137.96 L454.9 137.91 L455.78 137.86 L456.65 137.81 L457.53 137.76 L458.41 137.7 L459.28 137.63 L460.16 137.56 L461.04 137.49 L461.92 137.41 L462.79 137.32 L463.67 137.23 L464.55 137.12 L465.42 137.01 L466.3 136.89 L467.18 136.76 L468.05 136.61 L468.93 136.45 L469.81 136.28 L470.68 136.08 L471.56 135.87 L472.44 135.63 L473.32 135.36 L474.19 135.06 L475.07 134.73 L475.95 134.35 L476.82 133.91 L477.7 133.42 L478.58 132.86 L479.45 132.2 L480.33 131.45 L481.21 130.57 L482.08 129.54 L482.96 128.33 L483.84 126.89 L484.72 125.17 L485.59 123.11 L486.47 120.63 L487.35 117.66 L488.22 114.1 L489.1 109.88 L489.98 105.01 L490.85 99.6 L491.73 94.02 L492.61 88.93 L493.48 85.24 L494.36 83.8 L495.24 85.01 L496.12 88.54 L496.99 93.54 L497.87 99.11 L498.75 104.55 L499.62 109.48 L500.5 113.75 L501.38 117.37 L502.25 120.39 L503.13 122.91 L504.01 125 L504.88 126.75 L505.76 128.21 L506.64 129.44 L507.52 130.49 L508.39 131.38 L509.27 132.14 L510.15 132.8 L511.02 133.37 L511.9 133.87 L512.78 134.31 L513.65 134.69 L514.53 135.04 L515.41 135.34 L516.28 135.61 L517.16 135.85 L518.04 136.07 L518.92 136.26 L519.79 136.44 L520.67 136.6 L521.55 136.75 L522.42 136.88 L523.3 137 L524.18 137.11 L525.05 137.22 L525.93 137.31 L526.81 137.4 L527.68 137.48 L528.56 137.56 L529.44 137.63 L530.32 137.69 L531.19 137.75 L532.07 137.81 L532.95 137.86 L533.82 137.91 L534.7 137.95 L535.58 138 L536.45 138.04 L537.33 138.08 L538.21 138.11 L539.08 138.15 L539.96 138.18 L540.84 138.21 L541.72 138.24 L542.59 138.26 L543.47 138.29 L544.35 138.31 L545.22 138.34 L546.1 138.36 L546.98 138.38 L547.85 138.4 L548.73 138.42 L549.61 138.44 L550.48 138.46 L551.36 138.47 L552.24 138.49 L553.12 138.5 L553.99 138.52 L554.87 138.53 L555.75 138.54 L556.62 138.56 L557.5 138.57" fill="none" stroke="#2020f0" stroke-width="1.35" stroke-dasharray="2.3 3.3" stroke-linejoin="round"/>
<text transform="translate(448.8 93.2) scale(0.96 1)" font-size="16" letter-spacing="-0.5" fill="#000">iii</text>
<text transform="translate(516.14 87.5) scale(0.950 1.0)" font-size="11" fill="#111">Δφ</text>
<text transform="translate(532.07 88.2) scale(1.162 1.0)" font-size="11" fill="#111" stroke="#111" stroke-width="0.2">&gt;</text>
<text transform="translate(542.35 87.5) scale(0.926 1.0)" font-size="11" fill="#111">0</text>
<text transform="translate(516.19 98.6) scale(0.828 1.0)" font-size="11" fill="#111">ΔA</text>
<text transform="translate(531.96 98.8) scale(1.272 1.0)" font-size="10.5" fill="#222">=</text>
<text transform="translate(542.35 98.6) scale(0.926 1.0)" font-size="11" fill="#111">0</text>
<path d="M566 138.28 L566.88 138.25 L567.75 138.22 L568.63 138.19 L569.51 138.16 L570.38 138.13 L571.26 138.09 L572.14 138.06 L573.02 138.02 L573.89 137.97 L574.77 137.93 L575.65 137.88 L576.52 137.83 L577.4 137.78 L578.28 137.72 L579.15 137.65 L580.03 137.59 L580.91 137.51 L581.78 137.43 L582.66 137.35 L583.54 137.26 L584.42 137.16 L585.29 137.05 L586.17 136.93 L587.05 136.8 L587.92 136.66 L588.8 136.5 L589.68 136.33 L590.55 136.14 L591.43 135.93 L592.31 135.7 L593.18 135.44 L594.06 135.15 L594.94 134.82 L595.82 134.45 L596.69 134.03 L597.57 133.55 L598.45 133 L599.32 132.37 L600.2 131.64 L601.08 130.79 L601.95 129.79 L602.83 128.62 L603.71 127.23 L604.58 125.57 L605.46 123.58 L606.34 121.2 L607.22 118.33 L608.09 114.89 L608.97 110.81 L609.85 106.07 L610.72 100.78 L611.6 95.24 L612.48 90.07 L613.35 86.14 L614.23 84.35 L615.11 85.16 L615.98 88.36 L616.86 93.16 L617.74 98.64 L618.62 104.08 L619.49 109.06 L620.37 113.39 L621.25 117.07 L622.12 120.15 L623 122.71 L623.88 124.84 L624.75 126.62 L625.63 128.11 L626.51 129.36 L627.38 130.42 L628.26 131.32 L629.14 132.1 L630.02 132.77 L630.89 133.35 L631.77 133.85 L632.65 134.29 L633.52 134.68 L634.4 135.02 L635.28 135.33 L636.15 135.6 L637.03 135.84 L637.91 136.06 L638.78 136.26 L639.66 136.44 L640.54 136.6 L641.42 136.75 L642.29 136.88 L643.17 137 L644.05 137.12 L644.92 137.22 L645.8 137.31 L646.68 137.4 L647.55 137.48 L648.43 137.56 L649.31 137.63 L650.18 137.69 L651.06 137.75 L651.94 137.81 L652.82 137.86 L653.69 137.91 L654.57 137.96 L655.45 138 L656.32 138.04 L657.2 138.08 L658.08 138.12 L658.95 138.15 L659.83 138.18 L660.71 138.21 L661.58 138.24 L662.46 138.27 L663.34 138.29 L664.22 138.32 L665.09 138.34 L665.97 138.36 L666.85 138.38 L667.72 138.4 L668.6 138.42 L669.48 138.44 L670.35 138.46 L671.23 138.47 L672.11 138.49 L672.98 138.5 L673.86 138.52 L674.74 138.53 L675.62 138.55 L676.49 138.56 L677.37 138.57 L678.25 138.58 L679.12 138.59 L680 138.6" fill="none" stroke="#ff2020" stroke-width="1.35" stroke-linejoin="round"/>
<path d="M566 138.53 L566.88 138.52 L567.75 138.5 L568.63 138.49 L569.51 138.47 L570.38 138.46 L571.26 138.44 L572.14 138.42 L573.02 138.4 L573.89 138.38 L574.77 138.36 L575.65 138.34 L576.52 138.32 L577.4 138.29 L578.28 138.27 L579.15 138.24 L580.03 138.21 L580.91 138.18 L581.78 138.15 L582.66 138.12 L583.54 138.08 L584.42 138.04 L585.29 138 L586.17 137.96 L587.05 137.92 L587.92 137.87 L588.8 137.81 L589.68 137.76 L590.55 137.7 L591.43 137.64 L592.31 137.57 L593.18 137.49 L594.06 137.41 L594.94 137.33 L595.82 137.23 L596.69 137.13 L597.57 137.02 L598.45 136.9 L599.32 136.77 L600.2 136.62 L601.08 136.46 L601.95 136.29 L602.83 136.1 L603.71 135.88 L604.58 135.65 L605.46 135.38 L606.34 135.08 L607.22 134.75 L608.09 134.37 L608.97 133.94 L609.85 133.45 L610.72 132.89 L611.6 132.25 L612.48 131.5 L613.35 130.63 L614.23 129.61 L615.11 128.41 L615.98 126.98 L616.86 125.28 L617.74 123.25 L618.62 120.8 L619.49 117.86 L620.37 114.33 L621.25 110.16 L622.12 105.32 L623 99.94 L623.88 94.36 L624.75 89.21 L625.63 85.41 L626.51 83.81 L627.38 84.86 L628.26 88.27 L629.14 93.21 L630.02 98.77 L630.89 104.23 L631.77 109.2 L632.65 113.51 L633.52 117.17 L634.4 120.22 L635.28 122.77 L636.15 124.88 L637.03 126.65 L637.91 128.13 L638.78 129.37 L639.66 130.43 L640.54 131.33 L641.42 132.1 L642.29 132.76 L643.17 133.34 L644.05 133.84 L644.92 134.28 L645.8 134.67 L646.68 135.02 L647.55 135.32 L648.43 135.59 L649.31 135.84 L650.18 136.05 L651.06 136.25 L651.94 136.43 L652.82 136.59 L653.69 136.74 L654.57 136.87 L655.45 137 L656.32 137.11 L657.2 137.21 L658.08 137.31 L658.95 137.39 L659.83 137.48 L660.71 137.55 L661.58 137.62 L662.46 137.69 L663.34 137.75 L664.22 137.8 L665.09 137.86 L665.97 137.91 L666.85 137.95 L667.72 138 L668.6 138.04 L669.48 138.07 L670.35 138.11 L671.23 138.14 L672.11 138.18 L672.98 138.21 L673.86 138.24 L674.74 138.26 L675.62 138.29 L676.49 138.31 L677.37 138.34 L678.25 138.36 L679.12 138.38 L680 138.4" fill="none" stroke="#2020f0" stroke-width="1.35" stroke-dasharray="2.3 3.3" stroke-linejoin="round"/>
<text transform="translate(569.7 93.2) scale(0.96 1)" font-size="16" letter-spacing="-0.5" fill="#000">iv</text>
<text transform="translate(640.24 85) scale(0.950 1.0)" font-size="11" fill="#111">Δφ</text>
<text transform="translate(656.17 85.7) scale(1.162 1.0)" font-size="11" fill="#111" stroke="#111" stroke-width="0.2">&lt;</text>
<text transform="translate(666.45 85) scale(0.926 1.0)" font-size="11" fill="#111">0</text>
<text transform="translate(640.29 96.7) scale(0.828 1.0)" font-size="11" fill="#111">ΔA</text>
<text transform="translate(656.06 96.9) scale(1.272 1.0)" font-size="10.5" fill="#222">=</text>
<text transform="translate(666.45 96.7) scale(0.926 1.0)" font-size="11" fill="#111">0</text>
<path d="M443.5 206.96 L444.38 206.95 L445.25 206.94 L446.13 206.92 L447.01 206.91 L447.88 206.89 L448.76 206.88 L449.64 206.86 L450.52 206.85 L451.39 206.83 L452.27 206.81 L453.15 206.79 L454.02 206.77 L454.9 206.75 L455.78 206.72 L456.65 206.7 L457.53 206.67 L458.41 206.65 L459.28 206.62 L460.16 206.59 L461.04 206.56 L461.92 206.52 L462.79 206.49 L463.67 206.45 L464.55 206.41 L465.42 206.37 L466.3 206.32 L467.18 206.27 L468.05 206.22 L468.93 206.16 L469.81 206.1 L470.68 206.04 L471.56 205.97 L472.44 205.9 L473.32 205.82 L474.19 205.73 L475.07 205.64 L475.95 205.53 L476.82 205.42 L477.7 205.3 L478.58 205.17 L479.45 205.02 L480.33 204.86 L481.21 204.69 L482.08 204.49 L482.96 204.27 L483.84 204.03 L484.72 203.76 L485.59 203.46 L486.47 203.12 L487.35 202.74 L488.22 202.3 L489.1 201.8 L489.98 201.23 L490.85 200.57 L491.73 199.8 L492.61 198.91 L493.48 197.86 L494.36 196.62 L495.24 195.15 L496.12 193.39 L496.99 191.28 L497.87 188.75 L498.75 185.7 L499.62 182.06 L500.5 177.77 L501.38 172.85 L502.25 167.46 L503.13 162.02 L504.01 157.25 L504.88 154.07 L505.76 153.25 L506.64 155 L507.52 158.88 L508.39 163.99 L509.27 169.48 L510.15 174.73 L511.02 179.43 L511.9 183.48 L512.78 186.89 L513.65 189.74 L514.53 192.1 L515.41 194.07 L516.28 195.72 L517.16 197.1 L518.04 198.27 L518.92 199.25 L519.79 200.1 L520.67 200.82 L521.55 201.45 L522.42 201.99 L523.3 202.47 L524.18 202.89 L525.05 203.25 L525.93 203.58 L526.81 203.87 L527.68 204.13 L528.56 204.36 L529.44 204.57 L530.32 204.75 L531.19 204.92 L532.07 205.08 L532.95 205.22 L533.82 205.35 L534.7 205.46 L535.58 205.57 L536.45 205.67 L537.33 205.76 L538.21 205.85 L539.08 205.93 L539.96 206 L540.84 206.06 L541.72 206.13 L542.59 206.19 L543.47 206.24 L544.35 206.29 L545.22 206.34 L546.1 206.38 L546.98 206.43 L547.85 206.46 L548.73 206.5 L549.61 206.54 L550.48 206.57 L551.36 206.6 L552.24 206.63 L553.12 206.66 L553.99 206.68 L554.87 206.71 L555.75 206.73 L556.62 206.75 L557.5 206.78" fill="none" stroke="#ff2020" stroke-width="1.35" stroke-linejoin="round"/>
<path d="M443.5 206.84 L444.38 206.82 L445.25 206.8 L446.13 206.78 L447.01 206.76 L447.88 206.73 L448.76 206.71 L449.64 206.68 L450.52 206.65 L451.39 206.62 L452.27 206.59 L453.15 206.55 L454.02 206.52 L454.9 206.48 L455.78 206.43 L456.65 206.39 L457.53 206.34 L458.41 206.29 L459.28 206.23 L460.16 206.17 L461.04 206.11 L461.92 206.04 L462.79 205.97 L463.67 205.88 L464.55 205.8 L465.42 205.7 L466.3 205.59 L467.18 205.48 L468.05 205.35 L468.93 205.21 L469.81 205.06 L470.68 204.89 L471.56 204.7 L472.44 204.49 L473.32 204.25 L474.19 203.99 L475.07 203.69 L475.95 203.35 L476.82 202.96 L477.7 202.52 L478.58 202.02 L479.45 201.43 L480.33 200.75 L481.21 199.95 L482.08 199.02 L482.96 197.91 L483.84 196.59 L484.72 195.02 L485.59 193.12 L486.47 190.85 L487.35 188.11 L488.22 184.86 L489.1 181.06 L489.98 176.74 L490.85 172.13 L491.73 167.66 L492.61 164.01 L493.48 161.95 L494.36 162.01 L495.24 164.17 L496.12 167.88 L496.99 172.38 L497.87 176.98 L498.75 181.27 L499.62 185.05 L500.5 188.27 L501.38 190.98 L502.25 193.23 L503.13 195.11 L504.01 196.67 L504.88 197.97 L505.76 199.07 L506.64 200 L507.52 200.79 L508.39 201.46 L509.27 202.04 L510.15 202.55 L511.02 202.98 L511.9 203.37 L512.78 203.7 L513.65 204 L514.53 204.26 L515.41 204.5 L516.28 204.71 L517.16 204.9 L518.04 205.07 L518.92 205.22 L519.79 205.36 L520.67 205.48 L521.55 205.6 L522.42 205.7 L523.3 205.8 L524.18 205.89 L525.05 205.97 L525.93 206.04 L526.81 206.11 L527.68 206.18 L528.56 206.24 L529.44 206.29 L530.32 206.34 L531.19 206.39 L532.07 206.44 L532.95 206.48 L533.82 206.52 L534.7 206.55 L535.58 206.59 L536.45 206.62 L537.33 206.65 L538.21 206.68 L539.08 206.71 L539.96 206.73 L540.84 206.76 L541.72 206.78 L542.59 206.8 L543.47 206.82 L544.35 206.84 L545.22 206.86 L546.1 206.88 L546.98 206.9 L547.85 206.91 L548.73 206.93 L549.61 206.94 L550.48 206.96 L551.36 206.97 L552.24 206.98 L553.12 206.99 L553.99 207.01 L554.87 207.02 L555.75 207.03 L556.62 207.04 L557.5 207.05" fill="none" stroke="#2020f0" stroke-width="1.35" stroke-dasharray="2.3 3.3" stroke-linejoin="round"/>
<text transform="translate(448 157) scale(0.96 1)" font-size="16" letter-spacing="-0.5" fill="#000">v</text>
<text transform="translate(513.64 155.6) scale(0.950 1.0)" font-size="11" fill="#111">Δφ</text>
<text transform="translate(529.57 156.3) scale(1.162 1.0)" font-size="11" fill="#111" stroke="#111" stroke-width="0.2">&gt;</text>
<text transform="translate(539.85 155.6) scale(0.926 1.0)" font-size="11" fill="#111">0</text>
<text transform="translate(513.69 167) scale(0.828 1.0)" font-size="11" fill="#111">ΔA</text>
<text transform="translate(529.57 167.7) scale(1.162 1.0)" font-size="11" fill="#111" stroke="#111" stroke-width="0.2">&gt;</text>
<text transform="translate(539.85 167) scale(0.926 1.0)" font-size="11" fill="#111">0</text>
<path d="M566 206.76 L566.88 206.74 L567.75 206.72 L568.63 206.69 L569.51 206.67 L570.38 206.64 L571.26 206.61 L572.14 206.58 L573.02 206.55 L573.89 206.51 L574.77 206.48 L575.65 206.44 L576.52 206.4 L577.4 206.35 L578.28 206.31 L579.15 206.26 L580.03 206.21 L580.91 206.15 L581.78 206.09 L582.66 206.02 L583.54 205.96 L584.42 205.88 L585.29 205.8 L586.17 205.71 L587.05 205.62 L587.92 205.51 L588.8 205.4 L589.68 205.28 L590.55 205.14 L591.43 205 L592.31 204.83 L593.18 204.66 L594.06 204.46 L594.94 204.24 L595.82 204 L596.69 203.73 L597.57 203.42 L598.45 203.08 L599.32 202.69 L600.2 202.25 L601.08 201.74 L601.95 201.17 L602.83 200.5 L603.71 199.73 L604.58 198.82 L605.46 197.77 L606.34 196.52 L607.22 195.03 L608.09 193.26 L608.97 191.13 L609.85 188.58 L610.72 185.51 L611.6 181.84 L612.48 177.51 L613.35 172.54 L614.23 167.09 L615.11 161.58 L615.98 156.72 L616.86 153.44 L617.74 152.53 L618.62 154.25 L619.49 158.13 L620.37 163.29 L621.25 168.84 L622.12 174.17 L623 178.95 L623.88 183.07 L624.75 186.54 L625.63 189.44 L626.51 191.85 L627.38 193.85 L628.26 195.53 L629.14 196.93 L630.02 198.12 L630.89 199.12 L631.77 199.98 L632.65 200.72 L633.52 201.36 L634.4 201.91 L635.28 202.39 L636.15 202.82 L637.03 203.19 L637.91 203.52 L638.78 203.81 L639.66 204.08 L640.54 204.31 L641.42 204.52 L642.29 204.71 L643.17 204.89 L644.05 205.04 L644.92 205.19 L645.8 205.32 L646.68 205.44 L647.55 205.55 L648.43 205.65 L649.31 205.74 L650.18 205.82 L651.06 205.9 L651.94 205.98 L652.82 206.05 L653.69 206.11 L654.57 206.17 L655.45 206.22 L656.32 206.28 L657.2 206.32 L658.08 206.37 L658.95 206.41 L659.83 206.45 L660.71 206.49 L661.58 206.52 L662.46 206.56 L663.34 206.59 L664.22 206.62 L665.09 206.65 L665.97 206.67 L666.85 206.7 L667.72 206.72 L668.6 206.75 L669.48 206.77 L670.35 206.79 L671.23 206.81 L672.11 206.83 L672.98 206.84 L673.86 206.86 L674.74 206.88 L675.62 206.89 L676.49 206.91 L677.37 206.92 L678.25 206.94 L679.12 206.95 L680 206.96" fill="none" stroke="#ff2020" stroke-width="1.35" stroke-linejoin="round"/>
<path d="M566 207.03 L566.88 207.02 L567.75 207.01 L568.63 207 L569.51 206.99 L570.38 206.97 L571.26 206.96 L572.14 206.95 L573.02 206.93 L573.89 206.92 L574.77 206.9 L575.65 206.89 L576.52 206.87 L577.4 206.85 L578.28 206.83 L579.15 206.81 L580.03 206.79 L580.91 206.77 L581.78 206.75 L582.66 206.72 L583.54 206.69 L584.42 206.67 L585.29 206.64 L586.17 206.61 L587.05 206.57 L587.92 206.54 L588.8 206.5 L589.68 206.46 L590.55 206.42 L591.43 206.37 L592.31 206.33 L593.18 206.27 L594.06 206.22 L594.94 206.16 L595.82 206.09 L596.69 206.02 L597.57 205.95 L598.45 205.87 L599.32 205.78 L600.2 205.68 L601.08 205.57 L601.95 205.46 L602.83 205.33 L603.71 205.19 L604.58 205.04 L605.46 204.87 L606.34 204.68 L607.22 204.47 L608.09 204.24 L608.97 203.98 L609.85 203.68 L610.72 203.35 L611.6 202.97 L612.48 202.54 L613.35 202.04 L614.23 201.47 L615.11 200.8 L615.98 200.03 L616.86 199.12 L617.74 198.04 L618.62 196.77 L619.49 195.24 L620.37 193.42 L621.25 191.22 L622.12 188.58 L623 185.43 L623.88 181.7 L624.75 177.43 L625.63 172.74 L626.51 168 L627.38 163.83 L628.26 161.01 L629.14 160.23 L630.02 161.7 L630.89 165.04 L631.77 169.47 L632.65 174.25 L633.52 178.83 L634.4 182.94 L635.28 186.48 L636.15 189.47 L637.03 191.96 L637.91 194.03 L638.78 195.75 L639.66 197.19 L640.54 198.4 L641.42 199.42 L642.29 200.29 L643.17 201.02 L644.05 201.66 L644.92 202.2 L645.8 202.68 L646.68 203.1 L647.55 203.46 L648.43 203.78 L649.31 204.06 L650.18 204.32 L651.06 204.54 L651.94 204.75 L652.82 204.93 L653.69 205.09 L654.57 205.24 L655.45 205.37 L656.32 205.5 L657.2 205.61 L658.08 205.71 L658.95 205.81 L659.83 205.89 L660.71 205.97 L661.58 206.05 L662.46 206.11 L663.34 206.18 L664.22 206.24 L665.09 206.29 L665.97 206.34 L666.85 206.39 L667.72 206.43 L668.6 206.47 L669.48 206.51 L670.35 206.55 L671.23 206.58 L672.11 206.62 L672.98 206.65 L673.86 206.68 L674.74 206.7 L675.62 206.73 L676.49 206.75 L677.37 206.78 L678.25 206.8 L679.12 206.82 L680 206.84" fill="none" stroke="#2020f0" stroke-width="1.35" stroke-dasharray="2.3 3.3" stroke-linejoin="round"/>
<text transform="translate(571.2 157) scale(0.96 1)" font-size="16" letter-spacing="-0.5" fill="#000">vi</text>
<text transform="translate(639.24 154.4) scale(0.950 1.0)" font-size="11" fill="#111">Δφ</text>
<text transform="translate(655.17 155.1) scale(1.162 1.0)" font-size="11" fill="#111" stroke="#111" stroke-width="0.2">&lt;</text>
<text transform="translate(665.45 154.4) scale(0.926 1.0)" font-size="11" fill="#111">0</text>
<text transform="translate(639.29 166) scale(0.828 1.0)" font-size="11" fill="#111">ΔA</text>
<text transform="translate(655.17 166.7) scale(1.162 1.0)" font-size="11" fill="#111" stroke="#111" stroke-width="0.2">&gt;</text>
<text transform="translate(665.45 166) scale(0.926 1.0)" font-size="11" fill="#111">0</text>
<path d="M443.5 273.03 L444.38 273.02 L445.25 273 L446.13 272.99 L447.01 272.98 L447.88 272.97 L448.76 272.95 L449.64 272.94 L450.52 272.93 L451.39 272.91 L452.27 272.89 L453.15 272.88 L454.02 272.86 L454.9 272.84 L455.78 272.82 L456.65 272.8 L457.53 272.78 L458.41 272.76 L459.28 272.73 L460.16 272.71 L461.04 272.68 L461.92 272.65 L462.79 272.62 L463.67 272.59 L464.55 272.55 L465.42 272.52 L466.3 272.48 L467.18 272.43 L468.05 272.39 L468.93 272.34 L469.81 272.29 L470.68 272.24 L471.56 272.18 L472.44 272.11 L473.32 272.04 L474.19 271.97 L475.07 271.89 L475.95 271.8 L476.82 271.71 L477.7 271.6 L478.58 271.49 L479.45 271.36 L480.33 271.23 L481.21 271.08 L482.08 270.91 L482.96 270.72 L483.84 270.52 L484.72 270.29 L485.59 270.03 L486.47 269.74 L487.35 269.41 L488.22 269.03 L489.1 268.61 L489.98 268.12 L490.85 267.55 L491.73 266.9 L492.61 266.13 L493.48 265.23 L494.36 264.17 L495.24 262.91 L496.12 261.41 L496.99 259.6 L497.87 257.43 L498.75 254.82 L499.62 251.71 L500.5 248.04 L501.38 243.82 L502.25 239.21 L503.13 234.55 L504.01 230.47 L504.88 227.75 L505.76 227.04 L506.64 228.54 L507.52 231.86 L508.39 236.24 L509.27 240.94 L510.15 245.43 L511.02 249.46 L511.9 252.92 L512.78 255.84 L513.65 258.28 L514.53 260.3 L515.41 261.99 L516.28 263.4 L517.16 264.58 L518.04 265.58 L518.92 266.43 L519.79 267.15 L520.67 267.77 L521.55 268.31 L522.42 268.77 L523.3 269.18 L524.18 269.53 L525.05 269.85 L525.93 270.13 L526.81 270.38 L527.68 270.6 L528.56 270.8 L529.44 270.97 L530.32 271.13 L531.19 271.28 L532.07 271.41 L532.95 271.53 L533.82 271.64 L534.7 271.74 L535.58 271.84 L536.45 271.92 L537.33 272 L538.21 272.07 L539.08 272.14 L539.96 272.2 L540.84 272.26 L541.72 272.31 L542.59 272.36 L543.47 272.41 L544.35 272.45 L545.22 272.49 L546.1 272.53 L546.98 272.57 L547.85 272.6 L548.73 272.63 L549.61 272.66 L550.48 272.69 L551.36 272.72 L552.24 272.74 L553.12 272.76 L553.99 272.79 L554.87 272.81 L555.75 272.83 L556.62 272.85 L557.5 272.87" fill="none" stroke="#ff2020" stroke-width="1.35" stroke-linejoin="round"/>
<path d="M443.5 272.73 L444.38 272.7 L445.25 272.68 L446.13 272.65 L447.01 272.62 L447.88 272.59 L448.76 272.56 L449.64 272.53 L450.52 272.49 L451.39 272.45 L452.27 272.41 L453.15 272.37 L454.02 272.33 L454.9 272.28 L455.78 272.23 L456.65 272.17 L457.53 272.11 L458.41 272.05 L459.28 271.98 L460.16 271.91 L461.04 271.83 L461.92 271.75 L462.79 271.66 L463.67 271.56 L464.55 271.45 L465.42 271.33 L466.3 271.2 L467.18 271.06 L468.05 270.9 L468.93 270.73 L469.81 270.54 L470.68 270.33 L471.56 270.1 L472.44 269.84 L473.32 269.55 L474.19 269.22 L475.07 268.85 L475.95 268.43 L476.82 267.95 L477.7 267.41 L478.58 266.78 L479.45 266.05 L480.33 265.21 L481.21 264.21 L482.08 263.05 L482.96 261.66 L483.84 260.01 L484.72 258.04 L485.59 255.67 L486.47 252.82 L487.35 249.4 L488.22 245.34 L489.1 240.62 L489.98 235.33 L490.85 229.77 L491.73 224.54 L492.61 220.51 L493.48 218.58 L494.36 219.26 L495.24 222.35 L496.12 227.11 L496.99 232.6 L497.87 238.08 L498.75 243.1 L499.62 247.49 L500.5 251.21 L501.38 254.33 L502.25 256.93 L503.13 259.09 L504.01 260.89 L504.88 262.4 L505.76 263.66 L506.64 264.74 L507.52 265.65 L508.39 266.44 L509.27 267.11 L510.15 267.7 L511.02 268.21 L511.9 268.65 L512.78 269.04 L513.65 269.39 L514.53 269.7 L515.41 269.97 L516.28 270.22 L517.16 270.44 L518.04 270.64 L518.92 270.82 L519.79 270.98 L520.67 271.13 L521.55 271.27 L522.42 271.39 L523.3 271.5 L524.18 271.61 L525.05 271.7 L525.93 271.79 L526.81 271.87 L527.68 271.95 L528.56 272.02 L529.44 272.08 L530.32 272.15 L531.19 272.2 L532.07 272.25 L532.95 272.3 L533.82 272.35 L534.7 272.39 L535.58 272.44 L536.45 272.47 L537.33 272.51 L538.21 272.54 L539.08 272.58 L539.96 272.61 L540.84 272.64 L541.72 272.66 L542.59 272.69 L543.47 272.71 L544.35 272.74 L545.22 272.76 L546.1 272.78 L546.98 272.8 L547.85 272.82 L548.73 272.84 L549.61 272.85 L550.48 272.87 L551.36 272.89 L552.24 272.9 L553.12 272.92 L553.99 272.93 L554.87 272.94 L555.75 272.96 L556.62 272.97 L557.5 272.98" fill="none" stroke="#2020f0" stroke-width="1.35" stroke-dasharray="2.3 3.3" stroke-linejoin="round"/>
<text transform="translate(448 225) scale(0.96 1)" font-size="16" letter-spacing="-0.5" fill="#000">vii</text>
<text transform="translate(514.84 221.7) scale(0.950 1.0)" font-size="11" fill="#111">Δφ</text>
<text transform="translate(530.77 222.4) scale(1.162 1.0)" font-size="11" fill="#111" stroke="#111" stroke-width="0.2">&gt;</text>
<text transform="translate(541.05 221.7) scale(0.926 1.0)" font-size="11" fill="#111">0</text>
<text transform="translate(514.89 233.3) scale(0.828 1.0)" font-size="11" fill="#111">ΔA</text>
<text transform="translate(530.77 234) scale(1.162 1.0)" font-size="11" fill="#111" stroke="#111" stroke-width="0.2">&lt;</text>
<text transform="translate(541.05 233.3) scale(0.926 1.0)" font-size="11" fill="#111">0</text>
<path d="M566 272.85 L566.88 272.84 L567.75 272.82 L568.63 272.79 L569.51 272.77 L570.38 272.75 L571.26 272.72 L572.14 272.7 L573.02 272.67 L573.89 272.64 L574.77 272.61 L575.65 272.58 L576.52 272.54 L577.4 272.51 L578.28 272.47 L579.15 272.43 L580.03 272.38 L580.91 272.33 L581.78 272.28 L582.66 272.23 L583.54 272.17 L584.42 272.1 L585.29 272.03 L586.17 271.96 L587.05 271.88 L587.92 271.79 L588.8 271.69 L589.68 271.59 L590.55 271.47 L591.43 271.35 L592.31 271.21 L593.18 271.06 L594.06 270.89 L594.94 270.7 L595.82 270.49 L596.69 270.26 L597.57 270 L598.45 269.71 L599.32 269.37 L600.2 269 L601.08 268.57 L601.95 268.07 L602.83 267.5 L603.71 266.84 L604.58 266.07 L605.46 265.17 L606.34 264.1 L607.22 262.83 L608.09 261.32 L608.97 259.51 L609.85 257.32 L610.72 254.7 L611.6 251.57 L612.48 247.87 L613.35 243.62 L614.23 238.96 L615.11 234.25 L615.98 230.1 L616.86 227.3 L617.74 226.53 L618.62 227.99 L619.49 231.31 L620.37 235.72 L621.25 240.46 L622.12 245.02 L623 249.1 L623.88 252.61 L624.75 255.58 L625.63 258.06 L626.51 260.11 L627.38 261.83 L628.26 263.26 L629.14 264.46 L630.02 265.47 L630.89 266.33 L631.77 267.06 L632.65 267.69 L633.52 268.24 L634.4 268.71 L635.28 269.12 L636.15 269.48 L637.03 269.8 L637.91 270.09 L638.78 270.34 L639.66 270.56 L640.54 270.76 L641.42 270.94 L642.29 271.11 L643.17 271.25 L644.05 271.39 L644.92 271.51 L645.8 271.62 L646.68 271.72 L647.55 271.82 L648.43 271.9 L649.31 271.98 L650.18 272.05 L651.06 272.12 L651.94 272.18 L652.82 272.24 L653.69 272.3 L654.57 272.35 L655.45 272.4 L656.32 272.44 L657.2 272.48 L658.08 272.52 L658.95 272.56 L659.83 272.59 L660.71 272.62 L661.58 272.65 L662.46 272.68 L663.34 272.71 L664.22 272.73 L665.09 272.76 L665.97 272.78 L666.85 272.8 L667.72 272.82 L668.6 272.84 L669.48 272.86 L670.35 272.88 L671.23 272.89 L672.11 272.91 L672.98 272.93 L673.86 272.94 L674.74 272.95 L675.62 272.97 L676.49 272.98 L677.37 272.99 L678.25 273 L679.12 273.01 L680 273.03" fill="none" stroke="#ff2020" stroke-width="1.35" stroke-linejoin="round"/>
<path d="M566 272.97 L566.88 272.95 L567.75 272.94 L568.63 272.93 L569.51 272.91 L570.38 272.9 L571.26 272.88 L572.14 272.87 L573.02 272.85 L573.89 272.83 L574.77 272.82 L575.65 272.8 L576.52 272.78 L577.4 272.76 L578.28 272.73 L579.15 272.71 L580.03 272.69 L580.91 272.66 L581.78 272.63 L582.66 272.6 L583.54 272.57 L584.42 272.54 L585.29 272.51 L586.17 272.47 L587.05 272.43 L587.92 272.39 L588.8 272.35 L589.68 272.3 L590.55 272.25 L591.43 272.2 L592.31 272.14 L593.18 272.08 L594.06 272.01 L594.94 271.94 L595.82 271.87 L596.69 271.79 L597.57 271.7 L598.45 271.6 L599.32 271.5 L600.2 271.39 L601.08 271.26 L601.95 271.13 L602.83 270.98 L603.71 270.82 L604.58 270.64 L605.46 270.44 L606.34 270.22 L607.22 269.97 L608.09 269.7 L608.97 269.39 L609.85 269.05 L610.72 268.65 L611.6 268.21 L612.48 267.7 L613.35 267.12 L614.23 266.45 L615.11 265.67 L615.98 264.76 L616.86 263.7 L617.74 262.44 L618.62 260.94 L619.49 259.16 L620.37 257.02 L621.25 254.44 L622.12 251.35 L623 247.65 L623.88 243.3 L624.75 238.29 L625.63 232.8 L626.51 227.24 L627.38 222.35 L628.26 219.05 L629.14 218.13 L630.02 219.86 L630.89 223.77 L631.77 228.97 L632.65 234.56 L633.52 239.93 L634.4 244.74 L635.28 248.89 L636.15 252.39 L637.03 255.31 L637.91 257.74 L638.78 259.76 L639.66 261.44 L640.54 262.86 L641.42 264.05 L642.29 265.06 L643.17 265.93 L644.05 266.67 L644.92 267.31 L645.8 267.87 L646.68 268.36 L647.55 268.78 L648.43 269.16 L649.31 269.49 L650.18 269.79 L651.06 270.05 L651.94 270.29 L652.82 270.5 L653.69 270.69 L654.57 270.87 L655.45 271.03 L656.32 271.17 L657.2 271.3 L658.08 271.42 L658.95 271.53 L659.83 271.63 L660.71 271.73 L661.58 271.81 L662.46 271.89 L663.34 271.97 L664.22 272.04 L665.09 272.1 L665.97 272.16 L666.85 272.22 L667.72 272.27 L668.6 272.32 L669.48 272.36 L670.35 272.4 L671.23 272.44 L672.11 272.48 L672.98 272.52 L673.86 272.55 L674.74 272.58 L675.62 272.61 L676.49 272.64 L677.37 272.67 L678.25 272.69 L679.12 272.72 L680 272.74" fill="none" stroke="#2020f0" stroke-width="1.35" stroke-dasharray="2.3 3.3" stroke-linejoin="round"/>
<text transform="translate(571.2 226.2) scale(0.96 1)" font-size="16" letter-spacing="-0.5" fill="#000">viii</text>
<text transform="translate(638.74 220.9) scale(0.950 1.0)" font-size="11" fill="#111">Δφ</text>
<text transform="translate(654.67 221.6) scale(1.162 1.0)" font-size="11" fill="#111" stroke="#111" stroke-width="0.2">&lt;</text>
<text transform="translate(664.95 220.9) scale(0.926 1.0)" font-size="11" fill="#111">0</text>
<text transform="translate(638.79 233.1) scale(0.828 1.0)" font-size="11" fill="#111">ΔA</text>
<text transform="translate(654.67 233.8) scale(1.162 1.0)" font-size="11" fill="#111" stroke="#111" stroke-width="0.2">&lt;</text>
<text transform="translate(664.95 233.1) scale(0.926 1.0)" font-size="11" fill="#111">0</text>
<line x1="560.5" y1="5.4" x2="561.6" y2="274.4" stroke="#6a6a6a" stroke-width="1.5"/>
<line x1="441.3" y1="73.6" x2="683.4" y2="73.6" stroke="#7a7a7a" stroke-width="1.3"/>
<line x1="441.3" y1="139.8" x2="683.4" y2="139.8" stroke="#7a7a7a" stroke-width="1.3"/>
<line x1="441.3" y1="208.7" x2="683.4" y2="208.7" stroke="#7a7a7a" stroke-width="1.3"/>
<rect x="441.3" y="5.4" width="242.1" height="269" fill="none" stroke="#000" stroke-width="1.4"/>
<text transform="translate(431 177.2) rotate(-90)" font-size="13.7" textLength="73.4" lengthAdjust="spacingAndGlyphs">Transmission</text>
<text transform="translate(474.13 291.1) scale(0.995 1.0)" font-size="13.7" >Low</text>
<text transform="translate(623.63 291.1) scale(0.986 1.0)" font-size="13.7" >High</text>
<text transform="translate(532.52 304.7) scale(1.006 1.0)" font-size="13.7" >Frequency</text>
<rect x="504.7" y="285.6" width="109" height="2.2" fill="url(#gArrow)"/>
<path d="M618.2 286.7 L607.9 281.4 L608.8 282.6 L612.6 286.7 L608.8 290.8 L607.9 292.0 Z" fill="#1a1a1a" stroke="#1a1a1a" stroke-width="0.6" stroke-linejoin="round"/>
</g>
</svg>
</body></html>
